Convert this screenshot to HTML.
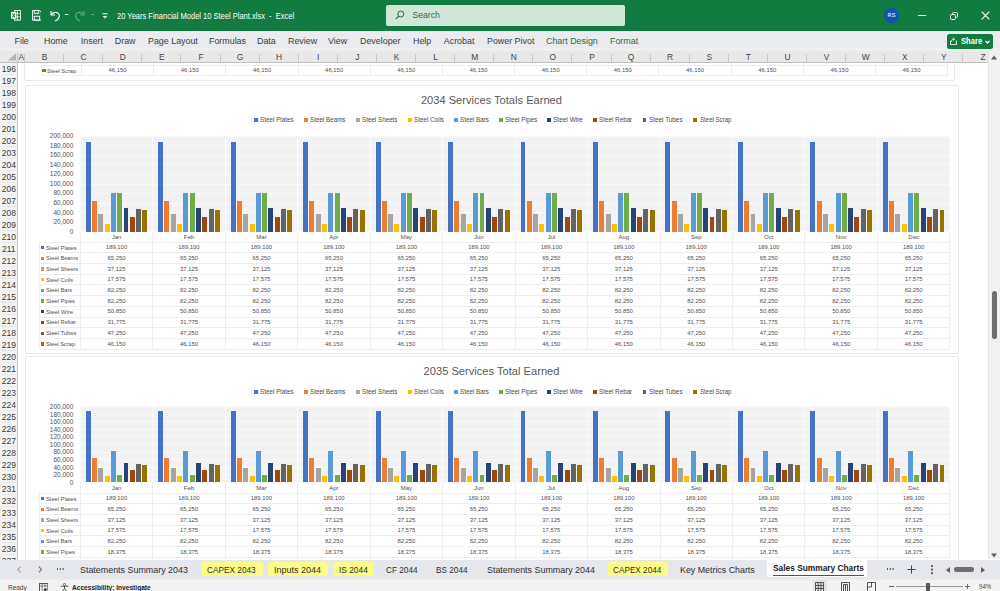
<!DOCTYPE html><html><head><meta charset="utf-8"><title>Excel</title><style>
*{box-sizing:border-box;margin:0;padding:0}
html,body{width:1000px;height:591px;overflow:hidden;background:#fff}
body{font-family:"Liberation Sans",sans-serif;position:relative;color:#444}
.abs{position:absolute}
.t{position:absolute;white-space:nowrap;line-height:1}
#titlebar{left:0;top:0;width:1000px;height:30.5px;background:#117b41}
#ribbon{left:0;top:30.5px;width:1000px;height:20.8px;background:#f0f0f0;border-top:17.7px solid #e9ebee}
#colhdr{left:0;top:51.3px;width:987.5px;height:11.7px;background:#e8e8e8;border-bottom:1px solid #c0c0c0}
#rowhdr{left:0;top:62.8px;width:17.9px;height:497px;background:#f3f3f3;border-right:1px solid #c9c9c9}
#vscroll{left:987.5px;top:51.3px;width:12.5px;height:508.2px;background:#f1f1f1;border-left:1px solid #e4e4e4}
#tabbar{left:0;top:559.5px;width:1000px;height:20px;background:#e6e7ec;border-bottom:2.7px solid #ebebec}
#status{left:0;top:579.5px;width:1000px;height:11.5px;background:#f3f3f3}
.rt{font-size:9px;color:#3b3b3b;top:37.2px}
.rn{font-size:8px;color:#444;left:0;width:17px;text-align:center}
.cl{font-size:8px;color:#444;top:53.6px;text-align:center;width:20px;margin-left:-10px}
.chart{position:absolute;background:#fff;border:1px solid #e9e9e9;border-radius:2px}
.ctitle{font-size:12.4px;color:#595959;text-align:center;width:300px;margin-left:-150px}
.leg{font-size:6.2px;color:#595959}
.yl{font-size:6.5px;color:#595959;text-align:right;width:40px}
.cat{font-size:6px;color:#595959;text-align:center;width:40px;margin-left:-20px}
.dv{font-size:5.9px;color:#595959;text-align:center;width:40px;margin-left:-20px}
.sn{font-size:5.7px;color:#595959}
.st{font-size:10.6px;color:#444;top:565px}
</style></head><body>
<div class="abs" id="sheet" style="left:17.4px;top:62.8px;width:970.1px;height:496.7px;overflow:hidden;background:#fff"><div class="abs" style="left:-17.4px;top:-62.8px;width:1000px;height:591px">
<div class="chart" style="left:24px;top:40px;width:931px;height:41.0px"></div>
<div class="abs" style="left:81.00px;top:40px;width:1px;height:35.849999999999994px;background:#eeeeee"></div>
<div class="abs" style="left:153.18px;top:40px;width:1px;height:35.849999999999994px;background:#eeeeee"></div>
<div class="abs" style="left:225.37px;top:40px;width:1px;height:35.849999999999994px;background:#eeeeee"></div>
<div class="abs" style="left:297.55px;top:40px;width:1px;height:35.849999999999994px;background:#eeeeee"></div>
<div class="abs" style="left:369.73px;top:40px;width:1px;height:35.849999999999994px;background:#eeeeee"></div>
<div class="abs" style="left:441.92px;top:40px;width:1px;height:35.849999999999994px;background:#eeeeee"></div>
<div class="abs" style="left:514.10px;top:40px;width:1px;height:35.849999999999994px;background:#eeeeee"></div>
<div class="abs" style="left:586.28px;top:40px;width:1px;height:35.849999999999994px;background:#eeeeee"></div>
<div class="abs" style="left:658.47px;top:40px;width:1px;height:35.849999999999994px;background:#eeeeee"></div>
<div class="abs" style="left:730.65px;top:40px;width:1px;height:35.849999999999994px;background:#eeeeee"></div>
<div class="abs" style="left:802.83px;top:40px;width:1px;height:35.849999999999994px;background:#eeeeee"></div>
<div class="abs" style="left:875.02px;top:40px;width:1px;height:35.849999999999994px;background:#eeeeee"></div>
<div class="abs" style="left:947.20px;top:40px;width:1px;height:35.849999999999994px;background:#eeeeee"></div>
<div class="abs" style="left:40.5px;top:65.15px;width:1px;height:10.699999999999989px;background:#eeeeee"></div>
<div class="abs" style="left:41px;top:64.65px;width:906.7px;height:1px;background:#eeeeee"></div>
<div class="abs" style="left:41px;top:75.35px;width:906.7px;height:1px;background:#eeeeee"></div>
<div class="abs" style="left:42.2px;top:68.90px;width:3.4px;height:3.4px;background:#997300"></div>
<div class="t" style="top:67.57px;font-size:6.00px;color:#505050;left:47.40px;transform-origin:0 50%;transform:scaleX(0.935);">Steel Scrap</div>
<div class="t" style="top:68.22px;font-size:5.90px;color:#505050;left:108.57px;transform-origin:50% 50%;">46,150</div>
<div class="t" style="top:68.22px;font-size:5.90px;color:#505050;left:180.75px;transform-origin:50% 50%;">46,150</div>
<div class="t" style="top:68.22px;font-size:5.90px;color:#505050;left:252.94px;transform-origin:50% 50%;">46,150</div>
<div class="t" style="top:68.22px;font-size:5.90px;color:#505050;left:325.12px;transform-origin:50% 50%;">46,150</div>
<div class="t" style="top:68.22px;font-size:5.90px;color:#505050;left:397.30px;transform-origin:50% 50%;">46,150</div>
<div class="t" style="top:68.22px;font-size:5.90px;color:#505050;left:469.49px;transform-origin:50% 50%;">46,150</div>
<div class="t" style="top:68.22px;font-size:5.90px;color:#505050;left:541.67px;transform-origin:50% 50%;">46,150</div>
<div class="t" style="top:68.22px;font-size:5.90px;color:#505050;left:613.85px;transform-origin:50% 50%;">46,150</div>
<div class="t" style="top:68.22px;font-size:5.90px;color:#505050;left:686.04px;transform-origin:50% 50%;">46,150</div>
<div class="t" style="top:68.22px;font-size:5.90px;color:#505050;left:758.22px;transform-origin:50% 50%;">46,150</div>
<div class="t" style="top:68.22px;font-size:5.90px;color:#505050;left:830.40px;transform-origin:50% 50%;">46,150</div>
<div class="t" style="top:68.22px;font-size:5.90px;color:#505050;left:902.59px;transform-origin:50% 50%;">46,150</div>
<div class="chart" style="left:24.6px;top:85px;width:934.4px;height:269.2px"></div>
<div class="t" style="top:94.73px;font-size:11.40px;color:#595959;left:419.14px;transform-origin:50% 50%;transform:scaleX(0.974);">2034 Services Totals Earned</div>
<div class="abs" style="left:253.75px;top:118.1px;width:3.8px;height:3.8px;background:#4472c4"></div>
<div class="t" style="top:116.98px;font-size:6.60px;color:#4c4c4c;left:259.95px;transform-origin:0 50%;transform:scaleX(0.958);">Steel Plates</div>
<div class="abs" style="left:304.25px;top:118.1px;width:3.8px;height:3.8px;background:#ed7d31"></div>
<div class="t" style="top:116.98px;font-size:6.60px;color:#4c4c4c;left:310.45px;transform-origin:0 50%;transform:scaleX(0.949);">Steel Beams</div>
<div class="abs" style="left:356.25px;top:118.1px;width:3.8px;height:3.8px;background:#a5a5a5"></div>
<div class="t" style="top:116.98px;font-size:6.60px;color:#4c4c4c;left:362.45px;transform-origin:0 50%;transform:scaleX(0.949);">Steel Sheets</div>
<div class="abs" style="left:408px;top:118.1px;width:3.8px;height:3.8px;background:#ffc000"></div>
<div class="t" style="top:116.98px;font-size:6.60px;color:#4c4c4c;left:414.20px;transform-origin:0 50%;transform:scaleX(0.951);">Steel Coils</div>
<div class="abs" style="left:454.25px;top:118.1px;width:3.8px;height:3.8px;background:#5b9bd5"></div>
<div class="t" style="top:116.98px;font-size:6.60px;color:#4c4c4c;left:460.45px;transform-origin:0 50%;transform:scaleX(0.952);">Steel Bars</div>
<div class="abs" style="left:499px;top:118.1px;width:3.8px;height:3.8px;background:#70ad47"></div>
<div class="t" style="top:116.98px;font-size:6.60px;color:#4c4c4c;left:505.20px;transform-origin:0 50%;transform:scaleX(0.964);">Steel Pipes</div>
<div class="abs" style="left:547px;top:118.1px;width:3.8px;height:3.8px;background:#264478"></div>
<div class="t" style="top:116.98px;font-size:6.60px;color:#4c4c4c;left:553.20px;transform-origin:0 50%;transform:scaleX(0.986);">Steel Wire</div>
<div class="abs" style="left:593.2px;top:118.1px;width:3.8px;height:3.8px;background:#9e480e"></div>
<div class="t" style="top:116.98px;font-size:6.60px;color:#4c4c4c;left:599.40px;transform-origin:0 50%;transform:scaleX(0.954);">Steel Rebar</div>
<div class="abs" style="left:642.5px;top:118.1px;width:3.8px;height:3.8px;background:#636363"></div>
<div class="t" style="top:116.98px;font-size:6.60px;color:#4c4c4c;left:648.70px;transform-origin:0 50%;transform:scaleX(0.964);">Steel Tubes</div>
<div class="abs" style="left:693.3px;top:118.1px;width:3.8px;height:3.8px;background:#997300"></div>
<div class="t" style="top:116.98px;font-size:6.60px;color:#4c4c4c;left:699.50px;transform-origin:0 50%;transform:scaleX(0.923);">Steel Scrap</div>
<div class="abs" style="left:80.3px;top:136.2px;width:869.6px;height:95.70000000000002px;background:#f2f2f2"></div>
<div class="abs" style="left:80.3px;top:231.4px;width:869.6px;height:1px;background:#fafafa"></div>
<div class="t" style="top:228.72px;font-size:6.50px;color:#525252;left:69.68px;transform-origin:100% 50%;">0</div>
<div class="abs" style="left:80.3px;top:221.83px;width:869.6px;height:1px;background:#fafafa"></div>
<div class="t" style="top:219.15px;font-size:6.50px;color:#525252;left:53.42px;transform-origin:100% 50%;">20,000</div>
<div class="abs" style="left:80.3px;top:212.26px;width:869.6px;height:1px;background:#fafafa"></div>
<div class="t" style="top:209.58px;font-size:6.50px;color:#525252;left:53.42px;transform-origin:100% 50%;">40,000</div>
<div class="abs" style="left:80.3px;top:202.69px;width:869.6px;height:1px;background:#fafafa"></div>
<div class="t" style="top:200.01px;font-size:6.50px;color:#525252;left:53.42px;transform-origin:100% 50%;">60,000</div>
<div class="abs" style="left:80.3px;top:193.12px;width:869.6px;height:1px;background:#fafafa"></div>
<div class="t" style="top:190.44px;font-size:6.50px;color:#525252;left:53.42px;transform-origin:100% 50%;">80,000</div>
<div class="abs" style="left:80.3px;top:183.55px;width:869.6px;height:1px;background:#fafafa"></div>
<div class="t" style="top:180.87px;font-size:6.50px;color:#525252;left:49.80px;transform-origin:100% 50%;">100,000</div>
<div class="abs" style="left:80.3px;top:173.98000000000002px;width:869.6px;height:1px;background:#fafafa"></div>
<div class="t" style="top:171.30px;font-size:6.50px;color:#525252;left:49.80px;transform-origin:100% 50%;">120,000</div>
<div class="abs" style="left:80.3px;top:164.41px;width:869.6px;height:1px;background:#fafafa"></div>
<div class="t" style="top:161.73px;font-size:6.50px;color:#525252;left:49.80px;transform-origin:100% 50%;">140,000</div>
<div class="abs" style="left:80.3px;top:154.83999999999997px;width:869.6px;height:1px;background:#fafafa"></div>
<div class="t" style="top:152.16px;font-size:6.50px;color:#525252;left:49.80px;transform-origin:100% 50%;">160,000</div>
<div class="abs" style="left:80.3px;top:145.26999999999998px;width:869.6px;height:1px;background:#fafafa"></div>
<div class="t" style="top:142.59px;font-size:6.50px;color:#525252;left:49.80px;transform-origin:100% 50%;">180,000</div>
<div class="abs" style="left:80.3px;top:135.7px;width:869.6px;height:1px;background:#fafafa"></div>
<div class="t" style="top:133.02px;font-size:6.50px;color:#525252;left:49.80px;transform-origin:100% 50%;">200,000</div>
<div class="abs" style="left:85.73px;top:141.96px;width:4.96px;height:89.94px;background:#4472c4"></div>
<div class="abs" style="left:92.02px;top:200.87px;width:4.96px;height:31.03px;background:#ed7d31"></div>
<div class="abs" style="left:98.32px;top:214.24px;width:4.96px;height:17.66px;background:#a5a5a5"></div>
<div class="abs" style="left:104.61px;top:223.54px;width:4.96px;height:8.36px;background:#ffc000"></div>
<div class="abs" style="left:110.91px;top:192.78px;width:4.96px;height:39.12px;background:#5b9bd5"></div>
<div class="abs" style="left:117.20px;top:192.78px;width:4.96px;height:39.12px;background:#70ad47"></div>
<div class="abs" style="left:123.50px;top:207.71px;width:4.96px;height:24.19px;background:#264478"></div>
<div class="abs" style="left:129.79px;top:216.79px;width:4.96px;height:15.11px;background:#9e480e"></div>
<div class="abs" style="left:136.09px;top:209.43px;width:4.96px;height:22.47px;background:#636363"></div>
<div class="abs" style="left:142.38px;top:209.95px;width:4.96px;height:21.95px;background:#997300"></div>
<div class="abs" style="left:158.19px;top:141.96px;width:4.96px;height:89.94px;background:#4472c4"></div>
<div class="abs" style="left:164.49px;top:200.87px;width:4.96px;height:31.03px;background:#ed7d31"></div>
<div class="abs" style="left:170.78px;top:214.24px;width:4.96px;height:17.66px;background:#a5a5a5"></div>
<div class="abs" style="left:177.08px;top:223.54px;width:4.96px;height:8.36px;background:#ffc000"></div>
<div class="abs" style="left:183.37px;top:192.78px;width:4.96px;height:39.12px;background:#5b9bd5"></div>
<div class="abs" style="left:189.67px;top:192.78px;width:4.96px;height:39.12px;background:#70ad47"></div>
<div class="abs" style="left:195.96px;top:207.71px;width:4.96px;height:24.19px;background:#264478"></div>
<div class="abs" style="left:202.26px;top:216.79px;width:4.96px;height:15.11px;background:#9e480e"></div>
<div class="abs" style="left:208.55px;top:209.43px;width:4.96px;height:22.47px;background:#636363"></div>
<div class="abs" style="left:214.85px;top:209.95px;width:4.96px;height:21.95px;background:#997300"></div>
<div class="abs" style="left:230.66px;top:141.96px;width:4.96px;height:89.94px;background:#4472c4"></div>
<div class="abs" style="left:236.96px;top:200.87px;width:4.96px;height:31.03px;background:#ed7d31"></div>
<div class="abs" style="left:243.25px;top:214.24px;width:4.96px;height:17.66px;background:#a5a5a5"></div>
<div class="abs" style="left:249.55px;top:223.54px;width:4.96px;height:8.36px;background:#ffc000"></div>
<div class="abs" style="left:255.84px;top:192.78px;width:4.96px;height:39.12px;background:#5b9bd5"></div>
<div class="abs" style="left:262.14px;top:192.78px;width:4.96px;height:39.12px;background:#70ad47"></div>
<div class="abs" style="left:268.43px;top:207.71px;width:4.96px;height:24.19px;background:#264478"></div>
<div class="abs" style="left:274.73px;top:216.79px;width:4.96px;height:15.11px;background:#9e480e"></div>
<div class="abs" style="left:281.02px;top:209.43px;width:4.96px;height:22.47px;background:#636363"></div>
<div class="abs" style="left:287.32px;top:209.95px;width:4.96px;height:21.95px;background:#997300"></div>
<div class="abs" style="left:303.13px;top:141.96px;width:4.96px;height:89.94px;background:#4472c4"></div>
<div class="abs" style="left:309.42px;top:200.87px;width:4.96px;height:31.03px;background:#ed7d31"></div>
<div class="abs" style="left:315.72px;top:214.24px;width:4.96px;height:17.66px;background:#a5a5a5"></div>
<div class="abs" style="left:322.01px;top:223.54px;width:4.96px;height:8.36px;background:#ffc000"></div>
<div class="abs" style="left:328.31px;top:192.78px;width:4.96px;height:39.12px;background:#5b9bd5"></div>
<div class="abs" style="left:334.60px;top:192.78px;width:4.96px;height:39.12px;background:#70ad47"></div>
<div class="abs" style="left:340.90px;top:207.71px;width:4.96px;height:24.19px;background:#264478"></div>
<div class="abs" style="left:347.19px;top:216.79px;width:4.96px;height:15.11px;background:#9e480e"></div>
<div class="abs" style="left:353.49px;top:209.43px;width:4.96px;height:22.47px;background:#636363"></div>
<div class="abs" style="left:359.78px;top:209.95px;width:4.96px;height:21.95px;background:#997300"></div>
<div class="abs" style="left:375.59px;top:141.96px;width:4.96px;height:89.94px;background:#4472c4"></div>
<div class="abs" style="left:381.89px;top:200.87px;width:4.96px;height:31.03px;background:#ed7d31"></div>
<div class="abs" style="left:388.18px;top:214.24px;width:4.96px;height:17.66px;background:#a5a5a5"></div>
<div class="abs" style="left:394.48px;top:223.54px;width:4.96px;height:8.36px;background:#ffc000"></div>
<div class="abs" style="left:400.77px;top:192.78px;width:4.96px;height:39.12px;background:#5b9bd5"></div>
<div class="abs" style="left:407.07px;top:192.78px;width:4.96px;height:39.12px;background:#70ad47"></div>
<div class="abs" style="left:413.36px;top:207.71px;width:4.96px;height:24.19px;background:#264478"></div>
<div class="abs" style="left:419.66px;top:216.79px;width:4.96px;height:15.11px;background:#9e480e"></div>
<div class="abs" style="left:425.95px;top:209.43px;width:4.96px;height:22.47px;background:#636363"></div>
<div class="abs" style="left:432.25px;top:209.95px;width:4.96px;height:21.95px;background:#997300"></div>
<div class="abs" style="left:448.06px;top:141.96px;width:4.96px;height:89.94px;background:#4472c4"></div>
<div class="abs" style="left:454.36px;top:200.87px;width:4.96px;height:31.03px;background:#ed7d31"></div>
<div class="abs" style="left:460.65px;top:214.24px;width:4.96px;height:17.66px;background:#a5a5a5"></div>
<div class="abs" style="left:466.95px;top:223.54px;width:4.96px;height:8.36px;background:#ffc000"></div>
<div class="abs" style="left:473.24px;top:192.78px;width:4.96px;height:39.12px;background:#5b9bd5"></div>
<div class="abs" style="left:479.54px;top:192.78px;width:4.96px;height:39.12px;background:#70ad47"></div>
<div class="abs" style="left:485.83px;top:207.71px;width:4.96px;height:24.19px;background:#264478"></div>
<div class="abs" style="left:492.13px;top:216.79px;width:4.96px;height:15.11px;background:#9e480e"></div>
<div class="abs" style="left:498.42px;top:209.43px;width:4.96px;height:22.47px;background:#636363"></div>
<div class="abs" style="left:504.72px;top:209.95px;width:4.96px;height:21.95px;background:#997300"></div>
<div class="abs" style="left:520.53px;top:141.96px;width:4.96px;height:89.94px;background:#4472c4"></div>
<div class="abs" style="left:526.82px;top:200.87px;width:4.96px;height:31.03px;background:#ed7d31"></div>
<div class="abs" style="left:533.12px;top:214.24px;width:4.96px;height:17.66px;background:#a5a5a5"></div>
<div class="abs" style="left:539.41px;top:223.54px;width:4.96px;height:8.36px;background:#ffc000"></div>
<div class="abs" style="left:545.71px;top:192.78px;width:4.96px;height:39.12px;background:#5b9bd5"></div>
<div class="abs" style="left:552.00px;top:192.78px;width:4.96px;height:39.12px;background:#70ad47"></div>
<div class="abs" style="left:558.30px;top:207.71px;width:4.96px;height:24.19px;background:#264478"></div>
<div class="abs" style="left:564.59px;top:216.79px;width:4.96px;height:15.11px;background:#9e480e"></div>
<div class="abs" style="left:570.89px;top:209.43px;width:4.96px;height:22.47px;background:#636363"></div>
<div class="abs" style="left:577.18px;top:209.95px;width:4.96px;height:21.95px;background:#997300"></div>
<div class="abs" style="left:592.99px;top:141.96px;width:4.96px;height:89.94px;background:#4472c4"></div>
<div class="abs" style="left:599.29px;top:200.87px;width:4.96px;height:31.03px;background:#ed7d31"></div>
<div class="abs" style="left:605.58px;top:214.24px;width:4.96px;height:17.66px;background:#a5a5a5"></div>
<div class="abs" style="left:611.88px;top:223.54px;width:4.96px;height:8.36px;background:#ffc000"></div>
<div class="abs" style="left:618.17px;top:192.78px;width:4.96px;height:39.12px;background:#5b9bd5"></div>
<div class="abs" style="left:624.47px;top:192.78px;width:4.96px;height:39.12px;background:#70ad47"></div>
<div class="abs" style="left:630.76px;top:207.71px;width:4.96px;height:24.19px;background:#264478"></div>
<div class="abs" style="left:637.06px;top:216.79px;width:4.96px;height:15.11px;background:#9e480e"></div>
<div class="abs" style="left:643.35px;top:209.43px;width:4.96px;height:22.47px;background:#636363"></div>
<div class="abs" style="left:649.65px;top:209.95px;width:4.96px;height:21.95px;background:#997300"></div>
<div class="abs" style="left:665.46px;top:141.96px;width:4.96px;height:89.94px;background:#4472c4"></div>
<div class="abs" style="left:671.76px;top:200.87px;width:4.96px;height:31.03px;background:#ed7d31"></div>
<div class="abs" style="left:678.05px;top:214.24px;width:4.96px;height:17.66px;background:#a5a5a5"></div>
<div class="abs" style="left:684.35px;top:223.54px;width:4.96px;height:8.36px;background:#ffc000"></div>
<div class="abs" style="left:690.64px;top:192.78px;width:4.96px;height:39.12px;background:#5b9bd5"></div>
<div class="abs" style="left:696.94px;top:192.78px;width:4.96px;height:39.12px;background:#70ad47"></div>
<div class="abs" style="left:703.23px;top:207.71px;width:4.96px;height:24.19px;background:#264478"></div>
<div class="abs" style="left:709.53px;top:216.79px;width:4.96px;height:15.11px;background:#9e480e"></div>
<div class="abs" style="left:715.82px;top:209.43px;width:4.96px;height:22.47px;background:#636363"></div>
<div class="abs" style="left:722.12px;top:209.95px;width:4.96px;height:21.95px;background:#997300"></div>
<div class="abs" style="left:737.93px;top:141.96px;width:4.96px;height:89.94px;background:#4472c4"></div>
<div class="abs" style="left:744.22px;top:200.87px;width:4.96px;height:31.03px;background:#ed7d31"></div>
<div class="abs" style="left:750.52px;top:214.24px;width:4.96px;height:17.66px;background:#a5a5a5"></div>
<div class="abs" style="left:756.81px;top:223.54px;width:4.96px;height:8.36px;background:#ffc000"></div>
<div class="abs" style="left:763.11px;top:192.78px;width:4.96px;height:39.12px;background:#5b9bd5"></div>
<div class="abs" style="left:769.40px;top:192.78px;width:4.96px;height:39.12px;background:#70ad47"></div>
<div class="abs" style="left:775.70px;top:207.71px;width:4.96px;height:24.19px;background:#264478"></div>
<div class="abs" style="left:781.99px;top:216.79px;width:4.96px;height:15.11px;background:#9e480e"></div>
<div class="abs" style="left:788.29px;top:209.43px;width:4.96px;height:22.47px;background:#636363"></div>
<div class="abs" style="left:794.58px;top:209.95px;width:4.96px;height:21.95px;background:#997300"></div>
<div class="abs" style="left:810.39px;top:141.96px;width:4.96px;height:89.94px;background:#4472c4"></div>
<div class="abs" style="left:816.69px;top:200.87px;width:4.96px;height:31.03px;background:#ed7d31"></div>
<div class="abs" style="left:822.98px;top:214.24px;width:4.96px;height:17.66px;background:#a5a5a5"></div>
<div class="abs" style="left:829.28px;top:223.54px;width:4.96px;height:8.36px;background:#ffc000"></div>
<div class="abs" style="left:835.57px;top:192.78px;width:4.96px;height:39.12px;background:#5b9bd5"></div>
<div class="abs" style="left:841.87px;top:192.78px;width:4.96px;height:39.12px;background:#70ad47"></div>
<div class="abs" style="left:848.16px;top:207.71px;width:4.96px;height:24.19px;background:#264478"></div>
<div class="abs" style="left:854.46px;top:216.79px;width:4.96px;height:15.11px;background:#9e480e"></div>
<div class="abs" style="left:860.75px;top:209.43px;width:4.96px;height:22.47px;background:#636363"></div>
<div class="abs" style="left:867.05px;top:209.95px;width:4.96px;height:21.95px;background:#997300"></div>
<div class="abs" style="left:882.86px;top:141.96px;width:4.96px;height:89.94px;background:#4472c4"></div>
<div class="abs" style="left:889.16px;top:200.87px;width:4.96px;height:31.03px;background:#ed7d31"></div>
<div class="abs" style="left:895.45px;top:214.24px;width:4.96px;height:17.66px;background:#a5a5a5"></div>
<div class="abs" style="left:901.75px;top:223.54px;width:4.96px;height:8.36px;background:#ffc000"></div>
<div class="abs" style="left:908.04px;top:192.78px;width:4.96px;height:39.12px;background:#5b9bd5"></div>
<div class="abs" style="left:914.34px;top:192.78px;width:4.96px;height:39.12px;background:#70ad47"></div>
<div class="abs" style="left:920.63px;top:207.71px;width:4.96px;height:24.19px;background:#264478"></div>
<div class="abs" style="left:926.93px;top:216.79px;width:4.96px;height:15.11px;background:#9e480e"></div>
<div class="abs" style="left:933.22px;top:209.43px;width:4.96px;height:22.47px;background:#636363"></div>
<div class="abs" style="left:939.52px;top:209.95px;width:4.96px;height:21.95px;background:#997300"></div>
<div class="abs" style="left:79.80px;top:136.2px;width:1px;height:95.70000000000002px;background:#fbfbfb"></div>
<div class="abs" style="left:79.80px;top:231.9px;width:1px;height:117.25000000000003px;background:#eeeeee"></div>
<div class="abs" style="left:152.27px;top:136.2px;width:1px;height:95.70000000000002px;background:#fbfbfb"></div>
<div class="abs" style="left:152.27px;top:231.9px;width:1px;height:117.25000000000003px;background:#eeeeee"></div>
<div class="abs" style="left:224.73px;top:136.2px;width:1px;height:95.70000000000002px;background:#fbfbfb"></div>
<div class="abs" style="left:224.73px;top:231.9px;width:1px;height:117.25000000000003px;background:#eeeeee"></div>
<div class="abs" style="left:297.20px;top:136.2px;width:1px;height:95.70000000000002px;background:#fbfbfb"></div>
<div class="abs" style="left:297.20px;top:231.9px;width:1px;height:117.25000000000003px;background:#eeeeee"></div>
<div class="abs" style="left:369.67px;top:136.2px;width:1px;height:95.70000000000002px;background:#fbfbfb"></div>
<div class="abs" style="left:369.67px;top:231.9px;width:1px;height:117.25000000000003px;background:#eeeeee"></div>
<div class="abs" style="left:442.13px;top:136.2px;width:1px;height:95.70000000000002px;background:#fbfbfb"></div>
<div class="abs" style="left:442.13px;top:231.9px;width:1px;height:117.25000000000003px;background:#eeeeee"></div>
<div class="abs" style="left:514.60px;top:136.2px;width:1px;height:95.70000000000002px;background:#fbfbfb"></div>
<div class="abs" style="left:514.60px;top:231.9px;width:1px;height:117.25000000000003px;background:#eeeeee"></div>
<div class="abs" style="left:587.07px;top:136.2px;width:1px;height:95.70000000000002px;background:#fbfbfb"></div>
<div class="abs" style="left:587.07px;top:231.9px;width:1px;height:117.25000000000003px;background:#eeeeee"></div>
<div class="abs" style="left:659.53px;top:136.2px;width:1px;height:95.70000000000002px;background:#fbfbfb"></div>
<div class="abs" style="left:659.53px;top:231.9px;width:1px;height:117.25000000000003px;background:#eeeeee"></div>
<div class="abs" style="left:732.00px;top:136.2px;width:1px;height:95.70000000000002px;background:#fbfbfb"></div>
<div class="abs" style="left:732.00px;top:231.9px;width:1px;height:117.25000000000003px;background:#eeeeee"></div>
<div class="abs" style="left:804.47px;top:136.2px;width:1px;height:95.70000000000002px;background:#fbfbfb"></div>
<div class="abs" style="left:804.47px;top:231.9px;width:1px;height:117.25000000000003px;background:#eeeeee"></div>
<div class="abs" style="left:876.93px;top:136.2px;width:1px;height:95.70000000000002px;background:#fbfbfb"></div>
<div class="abs" style="left:876.93px;top:231.9px;width:1px;height:117.25000000000003px;background:#eeeeee"></div>
<div class="abs" style="left:949.40px;top:136.2px;width:1px;height:95.70000000000002px;background:#fbfbfb"></div>
<div class="abs" style="left:949.40px;top:231.9px;width:1px;height:117.25000000000003px;background:#eeeeee"></div>
<div class="abs" style="left:39.3px;top:242.15px;width:1px;height:107.00000000000003px;background:#eeeeee"></div>
<div class="abs" style="left:39.8px;top:241.65px;width:910.1px;height:1px;background:#eeeeee"></div>
<div class="abs" style="left:39.8px;top:252.35px;width:910.1px;height:1px;background:#eeeeee"></div>
<div class="abs" style="left:39.8px;top:263.05px;width:910.1px;height:1px;background:#eeeeee"></div>
<div class="abs" style="left:39.8px;top:273.75px;width:910.1px;height:1px;background:#eeeeee"></div>
<div class="abs" style="left:39.8px;top:284.45px;width:910.1px;height:1px;background:#eeeeee"></div>
<div class="abs" style="left:39.8px;top:295.15px;width:910.1px;height:1px;background:#eeeeee"></div>
<div class="abs" style="left:39.8px;top:305.85px;width:910.1px;height:1px;background:#eeeeee"></div>
<div class="abs" style="left:39.8px;top:316.55px;width:910.1px;height:1px;background:#eeeeee"></div>
<div class="abs" style="left:39.8px;top:327.25px;width:910.1px;height:1px;background:#eeeeee"></div>
<div class="abs" style="left:39.8px;top:337.95px;width:910.1px;height:1px;background:#eeeeee"></div>
<div class="abs" style="left:39.8px;top:348.65px;width:910.1px;height:1px;background:#eeeeee"></div>
<div class="t" style="top:234.37px;font-size:6.00px;color:#525252;left:111.70px;transform-origin:50% 50%;">Jan</div>
<div class="t" style="top:234.37px;font-size:6.00px;color:#525252;left:183.83px;transform-origin:50% 50%;">Feb</div>
<div class="t" style="top:234.37px;font-size:6.00px;color:#525252;left:256.30px;transform-origin:50% 50%;">Mar</div>
<div class="t" style="top:234.37px;font-size:6.00px;color:#525252;left:329.26px;transform-origin:50% 50%;">Apr</div>
<div class="t" style="top:234.37px;font-size:6.00px;color:#525252;left:400.73px;transform-origin:50% 50%;">May</div>
<div class="t" style="top:234.37px;font-size:6.00px;color:#525252;left:474.03px;transform-origin:50% 50%;">Jun</div>
<div class="t" style="top:234.37px;font-size:6.00px;color:#525252;left:547.50px;transform-origin:50% 50%;">Jul</div>
<div class="t" style="top:234.37px;font-size:6.00px;color:#525252;left:618.46px;transform-origin:50% 50%;">Aug</div>
<div class="t" style="top:234.37px;font-size:6.00px;color:#525252;left:690.93px;transform-origin:50% 50%;">Sep</div>
<div class="t" style="top:234.37px;font-size:6.00px;color:#525252;left:764.07px;transform-origin:50% 50%;">Oct</div>
<div class="t" style="top:234.37px;font-size:6.00px;color:#525252;left:835.87px;transform-origin:50% 50%;">Nov</div>
<div class="t" style="top:234.37px;font-size:6.00px;color:#525252;left:908.33px;transform-origin:50% 50%;">Dec</div>
<div class="abs" style="left:41.0px;top:245.90px;width:3.4px;height:3.4px;background:#4472c4"></div>
<div class="t" style="top:244.57px;font-size:6.00px;color:#505050;left:46.20px;transform-origin:0 50%;transform:scaleX(0.953);">Steel Plates</div>
<div class="t" style="top:245.22px;font-size:5.90px;color:#505050;left:105.87px;transform-origin:50% 50%;">189,100</div>
<div class="t" style="top:245.22px;font-size:5.90px;color:#505050;left:178.34px;transform-origin:50% 50%;">189,100</div>
<div class="t" style="top:245.22px;font-size:5.90px;color:#505050;left:250.80px;transform-origin:50% 50%;">189,100</div>
<div class="t" style="top:245.22px;font-size:5.90px;color:#505050;left:323.27px;transform-origin:50% 50%;">189,100</div>
<div class="t" style="top:245.22px;font-size:5.90px;color:#505050;left:395.74px;transform-origin:50% 50%;">189,100</div>
<div class="t" style="top:245.22px;font-size:5.90px;color:#505050;left:468.20px;transform-origin:50% 50%;">189,100</div>
<div class="t" style="top:245.22px;font-size:5.90px;color:#505050;left:540.67px;transform-origin:50% 50%;">189,100</div>
<div class="t" style="top:245.22px;font-size:5.90px;color:#505050;left:613.14px;transform-origin:50% 50%;">189,100</div>
<div class="t" style="top:245.22px;font-size:5.90px;color:#505050;left:685.60px;transform-origin:50% 50%;">189,100</div>
<div class="t" style="top:245.22px;font-size:5.90px;color:#505050;left:758.07px;transform-origin:50% 50%;">189,100</div>
<div class="t" style="top:245.22px;font-size:5.90px;color:#505050;left:830.54px;transform-origin:50% 50%;">189,100</div>
<div class="t" style="top:245.22px;font-size:5.90px;color:#505050;left:903.00px;transform-origin:50% 50%;">189,100</div>
<div class="abs" style="left:41.0px;top:256.60px;width:3.4px;height:3.4px;background:#ed7d31"></div>
<div class="t" style="top:255.27px;font-size:6.00px;color:#505050;left:46.20px;transform-origin:0 50%;transform:scaleX(0.941);">Steel Beams</div>
<div class="t" style="top:255.92px;font-size:5.90px;color:#505050;left:107.51px;transform-origin:50% 50%;">65,250</div>
<div class="t" style="top:255.92px;font-size:5.90px;color:#505050;left:179.98px;transform-origin:50% 50%;">65,250</div>
<div class="t" style="top:255.92px;font-size:5.90px;color:#505050;left:252.44px;transform-origin:50% 50%;">65,250</div>
<div class="t" style="top:255.92px;font-size:5.90px;color:#505050;left:324.91px;transform-origin:50% 50%;">65,250</div>
<div class="t" style="top:255.92px;font-size:5.90px;color:#505050;left:397.38px;transform-origin:50% 50%;">65,250</div>
<div class="t" style="top:255.92px;font-size:5.90px;color:#505050;left:469.84px;transform-origin:50% 50%;">65,250</div>
<div class="t" style="top:255.92px;font-size:5.90px;color:#505050;left:542.31px;transform-origin:50% 50%;">65,250</div>
<div class="t" style="top:255.92px;font-size:5.90px;color:#505050;left:614.78px;transform-origin:50% 50%;">65,250</div>
<div class="t" style="top:255.92px;font-size:5.90px;color:#505050;left:687.24px;transform-origin:50% 50%;">65,250</div>
<div class="t" style="top:255.92px;font-size:5.90px;color:#505050;left:759.71px;transform-origin:50% 50%;">65,250</div>
<div class="t" style="top:255.92px;font-size:5.90px;color:#505050;left:832.18px;transform-origin:50% 50%;">65,250</div>
<div class="t" style="top:255.92px;font-size:5.90px;color:#505050;left:904.64px;transform-origin:50% 50%;">65,250</div>
<div class="abs" style="left:41.0px;top:267.30px;width:3.4px;height:3.4px;background:#a5a5a5"></div>
<div class="t" style="top:265.97px;font-size:6.00px;color:#505050;left:46.20px;transform-origin:0 50%;transform:scaleX(0.941);">Steel Sheets</div>
<div class="t" style="top:266.62px;font-size:5.90px;color:#505050;left:107.51px;transform-origin:50% 50%;">37,125</div>
<div class="t" style="top:266.62px;font-size:5.90px;color:#505050;left:179.98px;transform-origin:50% 50%;">37,125</div>
<div class="t" style="top:266.62px;font-size:5.90px;color:#505050;left:252.44px;transform-origin:50% 50%;">37,125</div>
<div class="t" style="top:266.62px;font-size:5.90px;color:#505050;left:324.91px;transform-origin:50% 50%;">37,125</div>
<div class="t" style="top:266.62px;font-size:5.90px;color:#505050;left:397.38px;transform-origin:50% 50%;">37,125</div>
<div class="t" style="top:266.62px;font-size:5.90px;color:#505050;left:469.84px;transform-origin:50% 50%;">37,125</div>
<div class="t" style="top:266.62px;font-size:5.90px;color:#505050;left:542.31px;transform-origin:50% 50%;">37,125</div>
<div class="t" style="top:266.62px;font-size:5.90px;color:#505050;left:614.78px;transform-origin:50% 50%;">37,125</div>
<div class="t" style="top:266.62px;font-size:5.90px;color:#505050;left:687.24px;transform-origin:50% 50%;">37,125</div>
<div class="t" style="top:266.62px;font-size:5.90px;color:#505050;left:759.71px;transform-origin:50% 50%;">37,125</div>
<div class="t" style="top:266.62px;font-size:5.90px;color:#505050;left:832.18px;transform-origin:50% 50%;">37,125</div>
<div class="t" style="top:266.62px;font-size:5.90px;color:#505050;left:904.64px;transform-origin:50% 50%;">37,125</div>
<div class="abs" style="left:41.0px;top:278.00px;width:3.4px;height:3.4px;background:#ffc000"></div>
<div class="t" style="top:276.67px;font-size:6.00px;color:#505050;left:46.20px;transform-origin:0 50%;transform:scaleX(0.941);">Steel Coils</div>
<div class="t" style="top:277.32px;font-size:5.90px;color:#505050;left:107.51px;transform-origin:50% 50%;">17,575</div>
<div class="t" style="top:277.32px;font-size:5.90px;color:#505050;left:179.98px;transform-origin:50% 50%;">17,575</div>
<div class="t" style="top:277.32px;font-size:5.90px;color:#505050;left:252.44px;transform-origin:50% 50%;">17,575</div>
<div class="t" style="top:277.32px;font-size:5.90px;color:#505050;left:324.91px;transform-origin:50% 50%;">17,575</div>
<div class="t" style="top:277.32px;font-size:5.90px;color:#505050;left:397.38px;transform-origin:50% 50%;">17,575</div>
<div class="t" style="top:277.32px;font-size:5.90px;color:#505050;left:469.84px;transform-origin:50% 50%;">17,575</div>
<div class="t" style="top:277.32px;font-size:5.90px;color:#505050;left:542.31px;transform-origin:50% 50%;">17,575</div>
<div class="t" style="top:277.32px;font-size:5.90px;color:#505050;left:614.78px;transform-origin:50% 50%;">17,575</div>
<div class="t" style="top:277.32px;font-size:5.90px;color:#505050;left:687.24px;transform-origin:50% 50%;">17,575</div>
<div class="t" style="top:277.32px;font-size:5.90px;color:#505050;left:759.71px;transform-origin:50% 50%;">17,575</div>
<div class="t" style="top:277.32px;font-size:5.90px;color:#505050;left:832.18px;transform-origin:50% 50%;">17,575</div>
<div class="t" style="top:277.32px;font-size:5.90px;color:#505050;left:904.64px;transform-origin:50% 50%;">17,575</div>
<div class="abs" style="left:41.0px;top:288.70px;width:3.4px;height:3.4px;background:#5b9bd5"></div>
<div class="t" style="top:287.37px;font-size:6.00px;color:#505050;left:46.20px;transform-origin:0 50%;transform:scaleX(0.947);">Steel Bars</div>
<div class="t" style="top:288.02px;font-size:5.90px;color:#505050;left:107.51px;transform-origin:50% 50%;">82,250</div>
<div class="t" style="top:288.02px;font-size:5.90px;color:#505050;left:179.98px;transform-origin:50% 50%;">82,250</div>
<div class="t" style="top:288.02px;font-size:5.90px;color:#505050;left:252.44px;transform-origin:50% 50%;">82,250</div>
<div class="t" style="top:288.02px;font-size:5.90px;color:#505050;left:324.91px;transform-origin:50% 50%;">82,250</div>
<div class="t" style="top:288.02px;font-size:5.90px;color:#505050;left:397.38px;transform-origin:50% 50%;">82,250</div>
<div class="t" style="top:288.02px;font-size:5.90px;color:#505050;left:469.84px;transform-origin:50% 50%;">82,250</div>
<div class="t" style="top:288.02px;font-size:5.90px;color:#505050;left:542.31px;transform-origin:50% 50%;">82,250</div>
<div class="t" style="top:288.02px;font-size:5.90px;color:#505050;left:614.78px;transform-origin:50% 50%;">82,250</div>
<div class="t" style="top:288.02px;font-size:5.90px;color:#505050;left:687.24px;transform-origin:50% 50%;">82,250</div>
<div class="t" style="top:288.02px;font-size:5.90px;color:#505050;left:759.71px;transform-origin:50% 50%;">82,250</div>
<div class="t" style="top:288.02px;font-size:5.90px;color:#505050;left:832.18px;transform-origin:50% 50%;">82,250</div>
<div class="t" style="top:288.02px;font-size:5.90px;color:#505050;left:904.64px;transform-origin:50% 50%;">82,250</div>
<div class="abs" style="left:41.0px;top:299.40px;width:3.4px;height:3.4px;background:#70ad47"></div>
<div class="t" style="top:298.07px;font-size:6.00px;color:#505050;left:46.20px;transform-origin:0 50%;transform:scaleX(0.955);">Steel Pipes</div>
<div class="t" style="top:298.72px;font-size:5.90px;color:#505050;left:107.51px;transform-origin:50% 50%;">82,250</div>
<div class="t" style="top:298.72px;font-size:5.90px;color:#505050;left:179.98px;transform-origin:50% 50%;">82,250</div>
<div class="t" style="top:298.72px;font-size:5.90px;color:#505050;left:252.44px;transform-origin:50% 50%;">82,250</div>
<div class="t" style="top:298.72px;font-size:5.90px;color:#505050;left:324.91px;transform-origin:50% 50%;">82,250</div>
<div class="t" style="top:298.72px;font-size:5.90px;color:#505050;left:397.38px;transform-origin:50% 50%;">82,250</div>
<div class="t" style="top:298.72px;font-size:5.90px;color:#505050;left:469.84px;transform-origin:50% 50%;">82,250</div>
<div class="t" style="top:298.72px;font-size:5.90px;color:#505050;left:542.31px;transform-origin:50% 50%;">82,250</div>
<div class="t" style="top:298.72px;font-size:5.90px;color:#505050;left:614.78px;transform-origin:50% 50%;">82,250</div>
<div class="t" style="top:298.72px;font-size:5.90px;color:#505050;left:687.24px;transform-origin:50% 50%;">82,250</div>
<div class="t" style="top:298.72px;font-size:5.90px;color:#505050;left:759.71px;transform-origin:50% 50%;">82,250</div>
<div class="t" style="top:298.72px;font-size:5.90px;color:#505050;left:832.18px;transform-origin:50% 50%;">82,250</div>
<div class="t" style="top:298.72px;font-size:5.90px;color:#505050;left:904.64px;transform-origin:50% 50%;">82,250</div>
<div class="abs" style="left:41.0px;top:310.10px;width:3.4px;height:3.4px;background:#264478"></div>
<div class="t" style="top:308.77px;font-size:6.00px;color:#505050;left:46.20px;transform-origin:0 50%;transform:scaleX(0.976);">Steel Wire</div>
<div class="t" style="top:309.42px;font-size:5.90px;color:#505050;left:107.51px;transform-origin:50% 50%;">50,850</div>
<div class="t" style="top:309.42px;font-size:5.90px;color:#505050;left:179.98px;transform-origin:50% 50%;">50,850</div>
<div class="t" style="top:309.42px;font-size:5.90px;color:#505050;left:252.44px;transform-origin:50% 50%;">50,850</div>
<div class="t" style="top:309.42px;font-size:5.90px;color:#505050;left:324.91px;transform-origin:50% 50%;">50,850</div>
<div class="t" style="top:309.42px;font-size:5.90px;color:#505050;left:397.38px;transform-origin:50% 50%;">50,850</div>
<div class="t" style="top:309.42px;font-size:5.90px;color:#505050;left:469.84px;transform-origin:50% 50%;">50,850</div>
<div class="t" style="top:309.42px;font-size:5.90px;color:#505050;left:542.31px;transform-origin:50% 50%;">50,850</div>
<div class="t" style="top:309.42px;font-size:5.90px;color:#505050;left:614.78px;transform-origin:50% 50%;">50,850</div>
<div class="t" style="top:309.42px;font-size:5.90px;color:#505050;left:687.24px;transform-origin:50% 50%;">50,850</div>
<div class="t" style="top:309.42px;font-size:5.90px;color:#505050;left:759.71px;transform-origin:50% 50%;">50,850</div>
<div class="t" style="top:309.42px;font-size:5.90px;color:#505050;left:832.18px;transform-origin:50% 50%;">50,850</div>
<div class="t" style="top:309.42px;font-size:5.90px;color:#505050;left:904.64px;transform-origin:50% 50%;">50,850</div>
<div class="abs" style="left:41.0px;top:320.80px;width:3.4px;height:3.4px;background:#9e480e"></div>
<div class="t" style="top:319.47px;font-size:6.00px;color:#505050;left:46.20px;transform-origin:0 50%;transform:scaleX(0.947);">Steel Rebar</div>
<div class="t" style="top:320.12px;font-size:5.90px;color:#505050;left:107.51px;transform-origin:50% 50%;">31,775</div>
<div class="t" style="top:320.12px;font-size:5.90px;color:#505050;left:179.98px;transform-origin:50% 50%;">31,775</div>
<div class="t" style="top:320.12px;font-size:5.90px;color:#505050;left:252.44px;transform-origin:50% 50%;">31,775</div>
<div class="t" style="top:320.12px;font-size:5.90px;color:#505050;left:324.91px;transform-origin:50% 50%;">31,775</div>
<div class="t" style="top:320.12px;font-size:5.90px;color:#505050;left:397.38px;transform-origin:50% 50%;">31,775</div>
<div class="t" style="top:320.12px;font-size:5.90px;color:#505050;left:469.84px;transform-origin:50% 50%;">31,775</div>
<div class="t" style="top:320.12px;font-size:5.90px;color:#505050;left:542.31px;transform-origin:50% 50%;">31,775</div>
<div class="t" style="top:320.12px;font-size:5.90px;color:#505050;left:614.78px;transform-origin:50% 50%;">31,775</div>
<div class="t" style="top:320.12px;font-size:5.90px;color:#505050;left:687.24px;transform-origin:50% 50%;">31,775</div>
<div class="t" style="top:320.12px;font-size:5.90px;color:#505050;left:759.71px;transform-origin:50% 50%;">31,775</div>
<div class="t" style="top:320.12px;font-size:5.90px;color:#505050;left:832.18px;transform-origin:50% 50%;">31,775</div>
<div class="t" style="top:320.12px;font-size:5.90px;color:#505050;left:904.64px;transform-origin:50% 50%;">31,775</div>
<div class="abs" style="left:41.0px;top:331.50px;width:3.4px;height:3.4px;background:#636363"></div>
<div class="t" style="top:330.17px;font-size:6.00px;color:#505050;left:46.20px;transform-origin:0 50%;transform:scaleX(0.956);">Steel Tubes</div>
<div class="t" style="top:330.82px;font-size:5.90px;color:#505050;left:107.51px;transform-origin:50% 50%;">47,250</div>
<div class="t" style="top:330.82px;font-size:5.90px;color:#505050;left:179.98px;transform-origin:50% 50%;">47,250</div>
<div class="t" style="top:330.82px;font-size:5.90px;color:#505050;left:252.44px;transform-origin:50% 50%;">47,250</div>
<div class="t" style="top:330.82px;font-size:5.90px;color:#505050;left:324.91px;transform-origin:50% 50%;">47,250</div>
<div class="t" style="top:330.82px;font-size:5.90px;color:#505050;left:397.38px;transform-origin:50% 50%;">47,250</div>
<div class="t" style="top:330.82px;font-size:5.90px;color:#505050;left:469.84px;transform-origin:50% 50%;">47,250</div>
<div class="t" style="top:330.82px;font-size:5.90px;color:#505050;left:542.31px;transform-origin:50% 50%;">47,250</div>
<div class="t" style="top:330.82px;font-size:5.90px;color:#505050;left:614.78px;transform-origin:50% 50%;">47,250</div>
<div class="t" style="top:330.82px;font-size:5.90px;color:#505050;left:687.24px;transform-origin:50% 50%;">47,250</div>
<div class="t" style="top:330.82px;font-size:5.90px;color:#505050;left:759.71px;transform-origin:50% 50%;">47,250</div>
<div class="t" style="top:330.82px;font-size:5.90px;color:#505050;left:832.18px;transform-origin:50% 50%;">47,250</div>
<div class="t" style="top:330.82px;font-size:5.90px;color:#505050;left:904.64px;transform-origin:50% 50%;">47,250</div>
<div class="abs" style="left:41.0px;top:342.20px;width:3.4px;height:3.4px;background:#997300"></div>
<div class="t" style="top:340.87px;font-size:6.00px;color:#505050;left:46.20px;transform-origin:0 50%;transform:scaleX(0.935);">Steel Scrap</div>
<div class="t" style="top:341.52px;font-size:5.90px;color:#505050;left:107.51px;transform-origin:50% 50%;">46,150</div>
<div class="t" style="top:341.52px;font-size:5.90px;color:#505050;left:179.98px;transform-origin:50% 50%;">46,150</div>
<div class="t" style="top:341.52px;font-size:5.90px;color:#505050;left:252.44px;transform-origin:50% 50%;">46,150</div>
<div class="t" style="top:341.52px;font-size:5.90px;color:#505050;left:324.91px;transform-origin:50% 50%;">46,150</div>
<div class="t" style="top:341.52px;font-size:5.90px;color:#505050;left:397.38px;transform-origin:50% 50%;">46,150</div>
<div class="t" style="top:341.52px;font-size:5.90px;color:#505050;left:469.84px;transform-origin:50% 50%;">46,150</div>
<div class="t" style="top:341.52px;font-size:5.90px;color:#505050;left:542.31px;transform-origin:50% 50%;">46,150</div>
<div class="t" style="top:341.52px;font-size:5.90px;color:#505050;left:614.78px;transform-origin:50% 50%;">46,150</div>
<div class="t" style="top:341.52px;font-size:5.90px;color:#505050;left:687.24px;transform-origin:50% 50%;">46,150</div>
<div class="t" style="top:341.52px;font-size:5.90px;color:#505050;left:759.71px;transform-origin:50% 50%;">46,150</div>
<div class="t" style="top:341.52px;font-size:5.90px;color:#505050;left:832.18px;transform-origin:50% 50%;">46,150</div>
<div class="t" style="top:341.52px;font-size:5.90px;color:#505050;left:904.64px;transform-origin:50% 50%;">46,150</div>
<div class="chart" style="left:24.6px;top:355.8px;width:934.4px;height:284.2px"></div>
<div class="t" style="top:365.63px;font-size:11.40px;color:#595959;left:421.59px;transform-origin:50% 50%;transform:scaleX(0.977);">2035 Services Total Earned</div>
<div class="abs" style="left:253.75px;top:390.2px;width:3.8px;height:3.8px;background:#4472c4"></div>
<div class="t" style="top:389.08px;font-size:6.60px;color:#4c4c4c;left:259.95px;transform-origin:0 50%;transform:scaleX(0.958);">Steel Plates</div>
<div class="abs" style="left:304.25px;top:390.2px;width:3.8px;height:3.8px;background:#ed7d31"></div>
<div class="t" style="top:389.08px;font-size:6.60px;color:#4c4c4c;left:310.45px;transform-origin:0 50%;transform:scaleX(0.949);">Steel Beams</div>
<div class="abs" style="left:356.25px;top:390.2px;width:3.8px;height:3.8px;background:#a5a5a5"></div>
<div class="t" style="top:389.08px;font-size:6.60px;color:#4c4c4c;left:362.45px;transform-origin:0 50%;transform:scaleX(0.949);">Steel Sheets</div>
<div class="abs" style="left:408px;top:390.2px;width:3.8px;height:3.8px;background:#ffc000"></div>
<div class="t" style="top:389.08px;font-size:6.60px;color:#4c4c4c;left:414.20px;transform-origin:0 50%;transform:scaleX(0.951);">Steel Coils</div>
<div class="abs" style="left:454.25px;top:390.2px;width:3.8px;height:3.8px;background:#5b9bd5"></div>
<div class="t" style="top:389.08px;font-size:6.60px;color:#4c4c4c;left:460.45px;transform-origin:0 50%;transform:scaleX(0.952);">Steel Bars</div>
<div class="abs" style="left:499px;top:390.2px;width:3.8px;height:3.8px;background:#70ad47"></div>
<div class="t" style="top:389.08px;font-size:6.60px;color:#4c4c4c;left:505.20px;transform-origin:0 50%;transform:scaleX(0.964);">Steel Pipes</div>
<div class="abs" style="left:547px;top:390.2px;width:3.8px;height:3.8px;background:#264478"></div>
<div class="t" style="top:389.08px;font-size:6.60px;color:#4c4c4c;left:553.20px;transform-origin:0 50%;transform:scaleX(0.986);">Steel Wire</div>
<div class="abs" style="left:593.2px;top:390.2px;width:3.8px;height:3.8px;background:#9e480e"></div>
<div class="t" style="top:389.08px;font-size:6.60px;color:#4c4c4c;left:599.40px;transform-origin:0 50%;transform:scaleX(0.954);">Steel Rebar</div>
<div class="abs" style="left:642.5px;top:390.2px;width:3.8px;height:3.8px;background:#636363"></div>
<div class="t" style="top:389.08px;font-size:6.60px;color:#4c4c4c;left:648.70px;transform-origin:0 50%;transform:scaleX(0.964);">Steel Tubes</div>
<div class="abs" style="left:693.3px;top:390.2px;width:3.8px;height:3.8px;background:#997300"></div>
<div class="t" style="top:389.08px;font-size:6.60px;color:#4c4c4c;left:699.50px;transform-origin:0 50%;transform:scaleX(0.923);">Steel Scrap</div>
<div class="abs" style="left:80.3px;top:406.8px;width:869.6px;height:75.39999999999998px;background:#f2f2f2"></div>
<div class="abs" style="left:80.3px;top:481.7px;width:869.6px;height:1px;background:#fafafa"></div>
<div class="t" style="top:479.62px;font-size:6.50px;color:#525252;left:69.68px;transform-origin:100% 50%;">0</div>
<div class="abs" style="left:80.3px;top:474.15999999999997px;width:869.6px;height:1px;background:#fafafa"></div>
<div class="t" style="top:472.08px;font-size:6.50px;color:#525252;left:53.42px;transform-origin:100% 50%;">20,000</div>
<div class="abs" style="left:80.3px;top:466.62px;width:869.6px;height:1px;background:#fafafa"></div>
<div class="t" style="top:464.54px;font-size:6.50px;color:#525252;left:53.42px;transform-origin:100% 50%;">40,000</div>
<div class="abs" style="left:80.3px;top:459.08px;width:869.6px;height:1px;background:#fafafa"></div>
<div class="t" style="top:457.00px;font-size:6.50px;color:#525252;left:53.42px;transform-origin:100% 50%;">60,000</div>
<div class="abs" style="left:80.3px;top:451.54px;width:869.6px;height:1px;background:#fafafa"></div>
<div class="t" style="top:449.46px;font-size:6.50px;color:#525252;left:53.42px;transform-origin:100% 50%;">80,000</div>
<div class="abs" style="left:80.3px;top:444.0px;width:869.6px;height:1px;background:#fafafa"></div>
<div class="t" style="top:441.92px;font-size:6.50px;color:#525252;left:49.80px;transform-origin:100% 50%;">100,000</div>
<div class="abs" style="left:80.3px;top:436.46px;width:869.6px;height:1px;background:#fafafa"></div>
<div class="t" style="top:434.38px;font-size:6.50px;color:#525252;left:49.80px;transform-origin:100% 50%;">120,000</div>
<div class="abs" style="left:80.3px;top:428.92px;width:869.6px;height:1px;background:#fafafa"></div>
<div class="t" style="top:426.84px;font-size:6.50px;color:#525252;left:49.80px;transform-origin:100% 50%;">140,000</div>
<div class="abs" style="left:80.3px;top:421.38px;width:869.6px;height:1px;background:#fafafa"></div>
<div class="t" style="top:419.30px;font-size:6.50px;color:#525252;left:49.80px;transform-origin:100% 50%;">160,000</div>
<div class="abs" style="left:80.3px;top:413.84000000000003px;width:869.6px;height:1px;background:#fafafa"></div>
<div class="t" style="top:411.76px;font-size:6.50px;color:#525252;left:49.80px;transform-origin:100% 50%;">180,000</div>
<div class="abs" style="left:80.3px;top:406.3px;width:869.6px;height:1px;background:#fafafa"></div>
<div class="t" style="top:404.22px;font-size:6.50px;color:#525252;left:49.80px;transform-origin:100% 50%;">200,000</div>
<div class="abs" style="left:85.73px;top:411.34px;width:4.96px;height:70.86px;background:#4472c4"></div>
<div class="abs" style="left:92.02px;top:457.75px;width:4.96px;height:24.45px;background:#ed7d31"></div>
<div class="abs" style="left:98.32px;top:468.29px;width:4.96px;height:13.91px;background:#a5a5a5"></div>
<div class="abs" style="left:104.61px;top:475.61px;width:4.96px;height:6.59px;background:#ffc000"></div>
<div class="abs" style="left:110.91px;top:451.38px;width:4.96px;height:30.82px;background:#5b9bd5"></div>
<div class="abs" style="left:117.20px;top:475.31px;width:4.96px;height:6.89px;background:#70ad47"></div>
<div class="abs" style="left:123.50px;top:463.14px;width:4.96px;height:19.06px;background:#264478"></div>
<div class="abs" style="left:129.79px;top:470.29px;width:4.96px;height:11.91px;background:#9e480e"></div>
<div class="abs" style="left:136.09px;top:464.49px;width:4.96px;height:17.71px;background:#636363"></div>
<div class="abs" style="left:142.38px;top:464.91px;width:4.96px;height:17.29px;background:#997300"></div>
<div class="abs" style="left:158.19px;top:411.34px;width:4.96px;height:70.86px;background:#4472c4"></div>
<div class="abs" style="left:164.49px;top:457.75px;width:4.96px;height:24.45px;background:#ed7d31"></div>
<div class="abs" style="left:170.78px;top:468.29px;width:4.96px;height:13.91px;background:#a5a5a5"></div>
<div class="abs" style="left:177.08px;top:475.61px;width:4.96px;height:6.59px;background:#ffc000"></div>
<div class="abs" style="left:183.37px;top:451.38px;width:4.96px;height:30.82px;background:#5b9bd5"></div>
<div class="abs" style="left:189.67px;top:475.31px;width:4.96px;height:6.89px;background:#70ad47"></div>
<div class="abs" style="left:195.96px;top:463.14px;width:4.96px;height:19.06px;background:#264478"></div>
<div class="abs" style="left:202.26px;top:470.29px;width:4.96px;height:11.91px;background:#9e480e"></div>
<div class="abs" style="left:208.55px;top:464.49px;width:4.96px;height:17.71px;background:#636363"></div>
<div class="abs" style="left:214.85px;top:464.91px;width:4.96px;height:17.29px;background:#997300"></div>
<div class="abs" style="left:230.66px;top:411.34px;width:4.96px;height:70.86px;background:#4472c4"></div>
<div class="abs" style="left:236.96px;top:457.75px;width:4.96px;height:24.45px;background:#ed7d31"></div>
<div class="abs" style="left:243.25px;top:468.29px;width:4.96px;height:13.91px;background:#a5a5a5"></div>
<div class="abs" style="left:249.55px;top:475.61px;width:4.96px;height:6.59px;background:#ffc000"></div>
<div class="abs" style="left:255.84px;top:451.38px;width:4.96px;height:30.82px;background:#5b9bd5"></div>
<div class="abs" style="left:262.14px;top:475.31px;width:4.96px;height:6.89px;background:#70ad47"></div>
<div class="abs" style="left:268.43px;top:463.14px;width:4.96px;height:19.06px;background:#264478"></div>
<div class="abs" style="left:274.73px;top:470.29px;width:4.96px;height:11.91px;background:#9e480e"></div>
<div class="abs" style="left:281.02px;top:464.49px;width:4.96px;height:17.71px;background:#636363"></div>
<div class="abs" style="left:287.32px;top:464.91px;width:4.96px;height:17.29px;background:#997300"></div>
<div class="abs" style="left:303.13px;top:411.34px;width:4.96px;height:70.86px;background:#4472c4"></div>
<div class="abs" style="left:309.42px;top:457.75px;width:4.96px;height:24.45px;background:#ed7d31"></div>
<div class="abs" style="left:315.72px;top:468.29px;width:4.96px;height:13.91px;background:#a5a5a5"></div>
<div class="abs" style="left:322.01px;top:475.61px;width:4.96px;height:6.59px;background:#ffc000"></div>
<div class="abs" style="left:328.31px;top:451.38px;width:4.96px;height:30.82px;background:#5b9bd5"></div>
<div class="abs" style="left:334.60px;top:475.31px;width:4.96px;height:6.89px;background:#70ad47"></div>
<div class="abs" style="left:340.90px;top:463.14px;width:4.96px;height:19.06px;background:#264478"></div>
<div class="abs" style="left:347.19px;top:470.29px;width:4.96px;height:11.91px;background:#9e480e"></div>
<div class="abs" style="left:353.49px;top:464.49px;width:4.96px;height:17.71px;background:#636363"></div>
<div class="abs" style="left:359.78px;top:464.91px;width:4.96px;height:17.29px;background:#997300"></div>
<div class="abs" style="left:375.59px;top:411.34px;width:4.96px;height:70.86px;background:#4472c4"></div>
<div class="abs" style="left:381.89px;top:457.75px;width:4.96px;height:24.45px;background:#ed7d31"></div>
<div class="abs" style="left:388.18px;top:468.29px;width:4.96px;height:13.91px;background:#a5a5a5"></div>
<div class="abs" style="left:394.48px;top:475.61px;width:4.96px;height:6.59px;background:#ffc000"></div>
<div class="abs" style="left:400.77px;top:451.38px;width:4.96px;height:30.82px;background:#5b9bd5"></div>
<div class="abs" style="left:407.07px;top:475.31px;width:4.96px;height:6.89px;background:#70ad47"></div>
<div class="abs" style="left:413.36px;top:463.14px;width:4.96px;height:19.06px;background:#264478"></div>
<div class="abs" style="left:419.66px;top:470.29px;width:4.96px;height:11.91px;background:#9e480e"></div>
<div class="abs" style="left:425.95px;top:464.49px;width:4.96px;height:17.71px;background:#636363"></div>
<div class="abs" style="left:432.25px;top:464.91px;width:4.96px;height:17.29px;background:#997300"></div>
<div class="abs" style="left:448.06px;top:411.34px;width:4.96px;height:70.86px;background:#4472c4"></div>
<div class="abs" style="left:454.36px;top:457.75px;width:4.96px;height:24.45px;background:#ed7d31"></div>
<div class="abs" style="left:460.65px;top:468.29px;width:4.96px;height:13.91px;background:#a5a5a5"></div>
<div class="abs" style="left:466.95px;top:475.61px;width:4.96px;height:6.59px;background:#ffc000"></div>
<div class="abs" style="left:473.24px;top:451.38px;width:4.96px;height:30.82px;background:#5b9bd5"></div>
<div class="abs" style="left:479.54px;top:475.31px;width:4.96px;height:6.89px;background:#70ad47"></div>
<div class="abs" style="left:485.83px;top:463.14px;width:4.96px;height:19.06px;background:#264478"></div>
<div class="abs" style="left:492.13px;top:470.29px;width:4.96px;height:11.91px;background:#9e480e"></div>
<div class="abs" style="left:498.42px;top:464.49px;width:4.96px;height:17.71px;background:#636363"></div>
<div class="abs" style="left:504.72px;top:464.91px;width:4.96px;height:17.29px;background:#997300"></div>
<div class="abs" style="left:520.53px;top:411.34px;width:4.96px;height:70.86px;background:#4472c4"></div>
<div class="abs" style="left:526.82px;top:457.75px;width:4.96px;height:24.45px;background:#ed7d31"></div>
<div class="abs" style="left:533.12px;top:468.29px;width:4.96px;height:13.91px;background:#a5a5a5"></div>
<div class="abs" style="left:539.41px;top:475.61px;width:4.96px;height:6.59px;background:#ffc000"></div>
<div class="abs" style="left:545.71px;top:451.38px;width:4.96px;height:30.82px;background:#5b9bd5"></div>
<div class="abs" style="left:552.00px;top:475.31px;width:4.96px;height:6.89px;background:#70ad47"></div>
<div class="abs" style="left:558.30px;top:463.14px;width:4.96px;height:19.06px;background:#264478"></div>
<div class="abs" style="left:564.59px;top:470.29px;width:4.96px;height:11.91px;background:#9e480e"></div>
<div class="abs" style="left:570.89px;top:464.49px;width:4.96px;height:17.71px;background:#636363"></div>
<div class="abs" style="left:577.18px;top:464.91px;width:4.96px;height:17.29px;background:#997300"></div>
<div class="abs" style="left:592.99px;top:411.34px;width:4.96px;height:70.86px;background:#4472c4"></div>
<div class="abs" style="left:599.29px;top:457.75px;width:4.96px;height:24.45px;background:#ed7d31"></div>
<div class="abs" style="left:605.58px;top:468.29px;width:4.96px;height:13.91px;background:#a5a5a5"></div>
<div class="abs" style="left:611.88px;top:475.61px;width:4.96px;height:6.59px;background:#ffc000"></div>
<div class="abs" style="left:618.17px;top:451.38px;width:4.96px;height:30.82px;background:#5b9bd5"></div>
<div class="abs" style="left:624.47px;top:475.31px;width:4.96px;height:6.89px;background:#70ad47"></div>
<div class="abs" style="left:630.76px;top:463.14px;width:4.96px;height:19.06px;background:#264478"></div>
<div class="abs" style="left:637.06px;top:470.29px;width:4.96px;height:11.91px;background:#9e480e"></div>
<div class="abs" style="left:643.35px;top:464.49px;width:4.96px;height:17.71px;background:#636363"></div>
<div class="abs" style="left:649.65px;top:464.91px;width:4.96px;height:17.29px;background:#997300"></div>
<div class="abs" style="left:665.46px;top:411.34px;width:4.96px;height:70.86px;background:#4472c4"></div>
<div class="abs" style="left:671.76px;top:457.75px;width:4.96px;height:24.45px;background:#ed7d31"></div>
<div class="abs" style="left:678.05px;top:468.29px;width:4.96px;height:13.91px;background:#a5a5a5"></div>
<div class="abs" style="left:684.35px;top:475.61px;width:4.96px;height:6.59px;background:#ffc000"></div>
<div class="abs" style="left:690.64px;top:451.38px;width:4.96px;height:30.82px;background:#5b9bd5"></div>
<div class="abs" style="left:696.94px;top:475.31px;width:4.96px;height:6.89px;background:#70ad47"></div>
<div class="abs" style="left:703.23px;top:463.14px;width:4.96px;height:19.06px;background:#264478"></div>
<div class="abs" style="left:709.53px;top:470.29px;width:4.96px;height:11.91px;background:#9e480e"></div>
<div class="abs" style="left:715.82px;top:464.49px;width:4.96px;height:17.71px;background:#636363"></div>
<div class="abs" style="left:722.12px;top:464.91px;width:4.96px;height:17.29px;background:#997300"></div>
<div class="abs" style="left:737.93px;top:411.34px;width:4.96px;height:70.86px;background:#4472c4"></div>
<div class="abs" style="left:744.22px;top:457.75px;width:4.96px;height:24.45px;background:#ed7d31"></div>
<div class="abs" style="left:750.52px;top:468.29px;width:4.96px;height:13.91px;background:#a5a5a5"></div>
<div class="abs" style="left:756.81px;top:475.61px;width:4.96px;height:6.59px;background:#ffc000"></div>
<div class="abs" style="left:763.11px;top:451.38px;width:4.96px;height:30.82px;background:#5b9bd5"></div>
<div class="abs" style="left:769.40px;top:475.31px;width:4.96px;height:6.89px;background:#70ad47"></div>
<div class="abs" style="left:775.70px;top:463.14px;width:4.96px;height:19.06px;background:#264478"></div>
<div class="abs" style="left:781.99px;top:470.29px;width:4.96px;height:11.91px;background:#9e480e"></div>
<div class="abs" style="left:788.29px;top:464.49px;width:4.96px;height:17.71px;background:#636363"></div>
<div class="abs" style="left:794.58px;top:464.91px;width:4.96px;height:17.29px;background:#997300"></div>
<div class="abs" style="left:810.39px;top:411.34px;width:4.96px;height:70.86px;background:#4472c4"></div>
<div class="abs" style="left:816.69px;top:457.75px;width:4.96px;height:24.45px;background:#ed7d31"></div>
<div class="abs" style="left:822.98px;top:468.29px;width:4.96px;height:13.91px;background:#a5a5a5"></div>
<div class="abs" style="left:829.28px;top:475.61px;width:4.96px;height:6.59px;background:#ffc000"></div>
<div class="abs" style="left:835.57px;top:451.38px;width:4.96px;height:30.82px;background:#5b9bd5"></div>
<div class="abs" style="left:841.87px;top:475.31px;width:4.96px;height:6.89px;background:#70ad47"></div>
<div class="abs" style="left:848.16px;top:463.14px;width:4.96px;height:19.06px;background:#264478"></div>
<div class="abs" style="left:854.46px;top:470.29px;width:4.96px;height:11.91px;background:#9e480e"></div>
<div class="abs" style="left:860.75px;top:464.49px;width:4.96px;height:17.71px;background:#636363"></div>
<div class="abs" style="left:867.05px;top:464.91px;width:4.96px;height:17.29px;background:#997300"></div>
<div class="abs" style="left:882.86px;top:411.34px;width:4.96px;height:70.86px;background:#4472c4"></div>
<div class="abs" style="left:889.16px;top:457.75px;width:4.96px;height:24.45px;background:#ed7d31"></div>
<div class="abs" style="left:895.45px;top:468.29px;width:4.96px;height:13.91px;background:#a5a5a5"></div>
<div class="abs" style="left:901.75px;top:475.61px;width:4.96px;height:6.59px;background:#ffc000"></div>
<div class="abs" style="left:908.04px;top:451.38px;width:4.96px;height:30.82px;background:#5b9bd5"></div>
<div class="abs" style="left:914.34px;top:475.31px;width:4.96px;height:6.89px;background:#70ad47"></div>
<div class="abs" style="left:920.63px;top:463.14px;width:4.96px;height:19.06px;background:#264478"></div>
<div class="abs" style="left:926.93px;top:470.29px;width:4.96px;height:11.91px;background:#9e480e"></div>
<div class="abs" style="left:933.22px;top:464.49px;width:4.96px;height:17.71px;background:#636363"></div>
<div class="abs" style="left:939.52px;top:464.91px;width:4.96px;height:17.29px;background:#997300"></div>
<div class="abs" style="left:79.80px;top:406.8px;width:1px;height:75.39999999999998px;background:#fbfbfb"></div>
<div class="abs" style="left:79.80px;top:482.2px;width:1px;height:117.94999999999999px;background:#eeeeee"></div>
<div class="abs" style="left:152.27px;top:406.8px;width:1px;height:75.39999999999998px;background:#fbfbfb"></div>
<div class="abs" style="left:152.27px;top:482.2px;width:1px;height:117.94999999999999px;background:#eeeeee"></div>
<div class="abs" style="left:224.73px;top:406.8px;width:1px;height:75.39999999999998px;background:#fbfbfb"></div>
<div class="abs" style="left:224.73px;top:482.2px;width:1px;height:117.94999999999999px;background:#eeeeee"></div>
<div class="abs" style="left:297.20px;top:406.8px;width:1px;height:75.39999999999998px;background:#fbfbfb"></div>
<div class="abs" style="left:297.20px;top:482.2px;width:1px;height:117.94999999999999px;background:#eeeeee"></div>
<div class="abs" style="left:369.67px;top:406.8px;width:1px;height:75.39999999999998px;background:#fbfbfb"></div>
<div class="abs" style="left:369.67px;top:482.2px;width:1px;height:117.94999999999999px;background:#eeeeee"></div>
<div class="abs" style="left:442.13px;top:406.8px;width:1px;height:75.39999999999998px;background:#fbfbfb"></div>
<div class="abs" style="left:442.13px;top:482.2px;width:1px;height:117.94999999999999px;background:#eeeeee"></div>
<div class="abs" style="left:514.60px;top:406.8px;width:1px;height:75.39999999999998px;background:#fbfbfb"></div>
<div class="abs" style="left:514.60px;top:482.2px;width:1px;height:117.94999999999999px;background:#eeeeee"></div>
<div class="abs" style="left:587.07px;top:406.8px;width:1px;height:75.39999999999998px;background:#fbfbfb"></div>
<div class="abs" style="left:587.07px;top:482.2px;width:1px;height:117.94999999999999px;background:#eeeeee"></div>
<div class="abs" style="left:659.53px;top:406.8px;width:1px;height:75.39999999999998px;background:#fbfbfb"></div>
<div class="abs" style="left:659.53px;top:482.2px;width:1px;height:117.94999999999999px;background:#eeeeee"></div>
<div class="abs" style="left:732.00px;top:406.8px;width:1px;height:75.39999999999998px;background:#fbfbfb"></div>
<div class="abs" style="left:732.00px;top:482.2px;width:1px;height:117.94999999999999px;background:#eeeeee"></div>
<div class="abs" style="left:804.47px;top:406.8px;width:1px;height:75.39999999999998px;background:#fbfbfb"></div>
<div class="abs" style="left:804.47px;top:482.2px;width:1px;height:117.94999999999999px;background:#eeeeee"></div>
<div class="abs" style="left:876.93px;top:406.8px;width:1px;height:75.39999999999998px;background:#fbfbfb"></div>
<div class="abs" style="left:876.93px;top:482.2px;width:1px;height:117.94999999999999px;background:#eeeeee"></div>
<div class="abs" style="left:949.40px;top:406.8px;width:1px;height:75.39999999999998px;background:#fbfbfb"></div>
<div class="abs" style="left:949.40px;top:482.2px;width:1px;height:117.94999999999999px;background:#eeeeee"></div>
<div class="abs" style="left:39.3px;top:493.15px;width:1px;height:107.0px;background:#eeeeee"></div>
<div class="abs" style="left:39.8px;top:492.65px;width:910.1px;height:1px;background:#eeeeee"></div>
<div class="abs" style="left:39.8px;top:503.35px;width:910.1px;height:1px;background:#eeeeee"></div>
<div class="abs" style="left:39.8px;top:514.05px;width:910.1px;height:1px;background:#eeeeee"></div>
<div class="abs" style="left:39.8px;top:524.75px;width:910.1px;height:1px;background:#eeeeee"></div>
<div class="abs" style="left:39.8px;top:535.45px;width:910.1px;height:1px;background:#eeeeee"></div>
<div class="abs" style="left:39.8px;top:546.15px;width:910.1px;height:1px;background:#eeeeee"></div>
<div class="abs" style="left:39.8px;top:556.85px;width:910.1px;height:1px;background:#eeeeee"></div>
<div class="abs" style="left:39.8px;top:567.55px;width:910.1px;height:1px;background:#eeeeee"></div>
<div class="abs" style="left:39.8px;top:578.25px;width:910.1px;height:1px;background:#eeeeee"></div>
<div class="abs" style="left:39.8px;top:588.95px;width:910.1px;height:1px;background:#eeeeee"></div>
<div class="abs" style="left:39.8px;top:599.65px;width:910.1px;height:1px;background:#eeeeee"></div>
<div class="t" style="top:484.87px;font-size:6.00px;color:#525252;left:111.70px;transform-origin:50% 50%;">Jan</div>
<div class="t" style="top:484.87px;font-size:6.00px;color:#525252;left:183.83px;transform-origin:50% 50%;">Feb</div>
<div class="t" style="top:484.87px;font-size:6.00px;color:#525252;left:256.30px;transform-origin:50% 50%;">Mar</div>
<div class="t" style="top:484.87px;font-size:6.00px;color:#525252;left:329.26px;transform-origin:50% 50%;">Apr</div>
<div class="t" style="top:484.87px;font-size:6.00px;color:#525252;left:400.73px;transform-origin:50% 50%;">May</div>
<div class="t" style="top:484.87px;font-size:6.00px;color:#525252;left:474.03px;transform-origin:50% 50%;">Jun</div>
<div class="t" style="top:484.87px;font-size:6.00px;color:#525252;left:547.50px;transform-origin:50% 50%;">Jul</div>
<div class="t" style="top:484.87px;font-size:6.00px;color:#525252;left:618.46px;transform-origin:50% 50%;">Aug</div>
<div class="t" style="top:484.87px;font-size:6.00px;color:#525252;left:690.93px;transform-origin:50% 50%;">Sep</div>
<div class="t" style="top:484.87px;font-size:6.00px;color:#525252;left:764.07px;transform-origin:50% 50%;">Oct</div>
<div class="t" style="top:484.87px;font-size:6.00px;color:#525252;left:835.87px;transform-origin:50% 50%;">Nov</div>
<div class="t" style="top:484.87px;font-size:6.00px;color:#525252;left:908.33px;transform-origin:50% 50%;">Dec</div>
<div class="abs" style="left:41.0px;top:496.90px;width:3.4px;height:3.4px;background:#4472c4"></div>
<div class="t" style="top:495.57px;font-size:6.00px;color:#505050;left:46.20px;transform-origin:0 50%;transform:scaleX(0.953);">Steel Plates</div>
<div class="t" style="top:496.22px;font-size:5.90px;color:#505050;left:105.87px;transform-origin:50% 50%;">189,100</div>
<div class="t" style="top:496.22px;font-size:5.90px;color:#505050;left:178.34px;transform-origin:50% 50%;">189,100</div>
<div class="t" style="top:496.22px;font-size:5.90px;color:#505050;left:250.80px;transform-origin:50% 50%;">189,100</div>
<div class="t" style="top:496.22px;font-size:5.90px;color:#505050;left:323.27px;transform-origin:50% 50%;">189,100</div>
<div class="t" style="top:496.22px;font-size:5.90px;color:#505050;left:395.74px;transform-origin:50% 50%;">189,100</div>
<div class="t" style="top:496.22px;font-size:5.90px;color:#505050;left:468.20px;transform-origin:50% 50%;">189,100</div>
<div class="t" style="top:496.22px;font-size:5.90px;color:#505050;left:540.67px;transform-origin:50% 50%;">189,100</div>
<div class="t" style="top:496.22px;font-size:5.90px;color:#505050;left:613.14px;transform-origin:50% 50%;">189,100</div>
<div class="t" style="top:496.22px;font-size:5.90px;color:#505050;left:685.60px;transform-origin:50% 50%;">189,100</div>
<div class="t" style="top:496.22px;font-size:5.90px;color:#505050;left:758.07px;transform-origin:50% 50%;">189,100</div>
<div class="t" style="top:496.22px;font-size:5.90px;color:#505050;left:830.54px;transform-origin:50% 50%;">189,100</div>
<div class="t" style="top:496.22px;font-size:5.90px;color:#505050;left:903.00px;transform-origin:50% 50%;">189,100</div>
<div class="abs" style="left:41.0px;top:507.60px;width:3.4px;height:3.4px;background:#ed7d31"></div>
<div class="t" style="top:506.27px;font-size:6.00px;color:#505050;left:46.20px;transform-origin:0 50%;transform:scaleX(0.941);">Steel Beams</div>
<div class="t" style="top:506.92px;font-size:5.90px;color:#505050;left:107.51px;transform-origin:50% 50%;">65,250</div>
<div class="t" style="top:506.92px;font-size:5.90px;color:#505050;left:179.98px;transform-origin:50% 50%;">65,250</div>
<div class="t" style="top:506.92px;font-size:5.90px;color:#505050;left:252.44px;transform-origin:50% 50%;">65,250</div>
<div class="t" style="top:506.92px;font-size:5.90px;color:#505050;left:324.91px;transform-origin:50% 50%;">65,250</div>
<div class="t" style="top:506.92px;font-size:5.90px;color:#505050;left:397.38px;transform-origin:50% 50%;">65,250</div>
<div class="t" style="top:506.92px;font-size:5.90px;color:#505050;left:469.84px;transform-origin:50% 50%;">65,250</div>
<div class="t" style="top:506.92px;font-size:5.90px;color:#505050;left:542.31px;transform-origin:50% 50%;">65,250</div>
<div class="t" style="top:506.92px;font-size:5.90px;color:#505050;left:614.78px;transform-origin:50% 50%;">65,250</div>
<div class="t" style="top:506.92px;font-size:5.90px;color:#505050;left:687.24px;transform-origin:50% 50%;">65,250</div>
<div class="t" style="top:506.92px;font-size:5.90px;color:#505050;left:759.71px;transform-origin:50% 50%;">65,250</div>
<div class="t" style="top:506.92px;font-size:5.90px;color:#505050;left:832.18px;transform-origin:50% 50%;">65,250</div>
<div class="t" style="top:506.92px;font-size:5.90px;color:#505050;left:904.64px;transform-origin:50% 50%;">65,250</div>
<div class="abs" style="left:41.0px;top:518.30px;width:3.4px;height:3.4px;background:#a5a5a5"></div>
<div class="t" style="top:516.97px;font-size:6.00px;color:#505050;left:46.20px;transform-origin:0 50%;transform:scaleX(0.941);">Steel Sheets</div>
<div class="t" style="top:517.62px;font-size:5.90px;color:#505050;left:107.51px;transform-origin:50% 50%;">37,125</div>
<div class="t" style="top:517.62px;font-size:5.90px;color:#505050;left:179.98px;transform-origin:50% 50%;">37,125</div>
<div class="t" style="top:517.62px;font-size:5.90px;color:#505050;left:252.44px;transform-origin:50% 50%;">37,125</div>
<div class="t" style="top:517.62px;font-size:5.90px;color:#505050;left:324.91px;transform-origin:50% 50%;">37,125</div>
<div class="t" style="top:517.62px;font-size:5.90px;color:#505050;left:397.38px;transform-origin:50% 50%;">37,125</div>
<div class="t" style="top:517.62px;font-size:5.90px;color:#505050;left:469.84px;transform-origin:50% 50%;">37,125</div>
<div class="t" style="top:517.62px;font-size:5.90px;color:#505050;left:542.31px;transform-origin:50% 50%;">37,125</div>
<div class="t" style="top:517.62px;font-size:5.90px;color:#505050;left:614.78px;transform-origin:50% 50%;">37,125</div>
<div class="t" style="top:517.62px;font-size:5.90px;color:#505050;left:687.24px;transform-origin:50% 50%;">37,125</div>
<div class="t" style="top:517.62px;font-size:5.90px;color:#505050;left:759.71px;transform-origin:50% 50%;">37,125</div>
<div class="t" style="top:517.62px;font-size:5.90px;color:#505050;left:832.18px;transform-origin:50% 50%;">37,125</div>
<div class="t" style="top:517.62px;font-size:5.90px;color:#505050;left:904.64px;transform-origin:50% 50%;">37,125</div>
<div class="abs" style="left:41.0px;top:529.00px;width:3.4px;height:3.4px;background:#ffc000"></div>
<div class="t" style="top:527.67px;font-size:6.00px;color:#505050;left:46.20px;transform-origin:0 50%;transform:scaleX(0.941);">Steel Coils</div>
<div class="t" style="top:528.32px;font-size:5.90px;color:#505050;left:107.51px;transform-origin:50% 50%;">17,575</div>
<div class="t" style="top:528.32px;font-size:5.90px;color:#505050;left:179.98px;transform-origin:50% 50%;">17,575</div>
<div class="t" style="top:528.32px;font-size:5.90px;color:#505050;left:252.44px;transform-origin:50% 50%;">17,575</div>
<div class="t" style="top:528.32px;font-size:5.90px;color:#505050;left:324.91px;transform-origin:50% 50%;">17,575</div>
<div class="t" style="top:528.32px;font-size:5.90px;color:#505050;left:397.38px;transform-origin:50% 50%;">17,575</div>
<div class="t" style="top:528.32px;font-size:5.90px;color:#505050;left:469.84px;transform-origin:50% 50%;">17,575</div>
<div class="t" style="top:528.32px;font-size:5.90px;color:#505050;left:542.31px;transform-origin:50% 50%;">17,575</div>
<div class="t" style="top:528.32px;font-size:5.90px;color:#505050;left:614.78px;transform-origin:50% 50%;">17,575</div>
<div class="t" style="top:528.32px;font-size:5.90px;color:#505050;left:687.24px;transform-origin:50% 50%;">17,575</div>
<div class="t" style="top:528.32px;font-size:5.90px;color:#505050;left:759.71px;transform-origin:50% 50%;">17,575</div>
<div class="t" style="top:528.32px;font-size:5.90px;color:#505050;left:832.18px;transform-origin:50% 50%;">17,575</div>
<div class="t" style="top:528.32px;font-size:5.90px;color:#505050;left:904.64px;transform-origin:50% 50%;">17,575</div>
<div class="abs" style="left:41.0px;top:539.70px;width:3.4px;height:3.4px;background:#5b9bd5"></div>
<div class="t" style="top:538.37px;font-size:6.00px;color:#505050;left:46.20px;transform-origin:0 50%;transform:scaleX(0.947);">Steel Bars</div>
<div class="t" style="top:539.02px;font-size:5.90px;color:#505050;left:107.51px;transform-origin:50% 50%;">82,250</div>
<div class="t" style="top:539.02px;font-size:5.90px;color:#505050;left:179.98px;transform-origin:50% 50%;">82,250</div>
<div class="t" style="top:539.02px;font-size:5.90px;color:#505050;left:252.44px;transform-origin:50% 50%;">82,250</div>
<div class="t" style="top:539.02px;font-size:5.90px;color:#505050;left:324.91px;transform-origin:50% 50%;">82,250</div>
<div class="t" style="top:539.02px;font-size:5.90px;color:#505050;left:397.38px;transform-origin:50% 50%;">82,250</div>
<div class="t" style="top:539.02px;font-size:5.90px;color:#505050;left:469.84px;transform-origin:50% 50%;">82,250</div>
<div class="t" style="top:539.02px;font-size:5.90px;color:#505050;left:542.31px;transform-origin:50% 50%;">82,250</div>
<div class="t" style="top:539.02px;font-size:5.90px;color:#505050;left:614.78px;transform-origin:50% 50%;">82,250</div>
<div class="t" style="top:539.02px;font-size:5.90px;color:#505050;left:687.24px;transform-origin:50% 50%;">82,250</div>
<div class="t" style="top:539.02px;font-size:5.90px;color:#505050;left:759.71px;transform-origin:50% 50%;">82,250</div>
<div class="t" style="top:539.02px;font-size:5.90px;color:#505050;left:832.18px;transform-origin:50% 50%;">82,250</div>
<div class="t" style="top:539.02px;font-size:5.90px;color:#505050;left:904.64px;transform-origin:50% 50%;">82,250</div>
<div class="abs" style="left:41.0px;top:550.40px;width:3.4px;height:3.4px;background:#70ad47"></div>
<div class="t" style="top:549.07px;font-size:6.00px;color:#505050;left:46.20px;transform-origin:0 50%;transform:scaleX(0.955);">Steel Pipes</div>
<div class="t" style="top:549.72px;font-size:5.90px;color:#505050;left:107.51px;transform-origin:50% 50%;">18,375</div>
<div class="t" style="top:549.72px;font-size:5.90px;color:#505050;left:179.98px;transform-origin:50% 50%;">18,375</div>
<div class="t" style="top:549.72px;font-size:5.90px;color:#505050;left:252.44px;transform-origin:50% 50%;">18,375</div>
<div class="t" style="top:549.72px;font-size:5.90px;color:#505050;left:324.91px;transform-origin:50% 50%;">18,375</div>
<div class="t" style="top:549.72px;font-size:5.90px;color:#505050;left:397.38px;transform-origin:50% 50%;">18,375</div>
<div class="t" style="top:549.72px;font-size:5.90px;color:#505050;left:469.84px;transform-origin:50% 50%;">18,375</div>
<div class="t" style="top:549.72px;font-size:5.90px;color:#505050;left:542.31px;transform-origin:50% 50%;">18,375</div>
<div class="t" style="top:549.72px;font-size:5.90px;color:#505050;left:614.78px;transform-origin:50% 50%;">18,375</div>
<div class="t" style="top:549.72px;font-size:5.90px;color:#505050;left:687.24px;transform-origin:50% 50%;">18,375</div>
<div class="t" style="top:549.72px;font-size:5.90px;color:#505050;left:759.71px;transform-origin:50% 50%;">18,375</div>
<div class="t" style="top:549.72px;font-size:5.90px;color:#505050;left:832.18px;transform-origin:50% 50%;">18,375</div>
<div class="t" style="top:549.72px;font-size:5.90px;color:#505050;left:904.64px;transform-origin:50% 50%;">18,375</div>
<div class="abs" style="left:41.0px;top:561.10px;width:3.4px;height:3.4px;background:#264478"></div>
<div class="t" style="top:559.77px;font-size:6.00px;color:#505050;left:46.20px;transform-origin:0 50%;transform:scaleX(0.976);">Steel Wire</div>
<div class="t" style="top:560.42px;font-size:5.90px;color:#505050;left:107.51px;transform-origin:50% 50%;">50,850</div>
<div class="t" style="top:560.42px;font-size:5.90px;color:#505050;left:179.98px;transform-origin:50% 50%;">50,850</div>
<div class="t" style="top:560.42px;font-size:5.90px;color:#505050;left:252.44px;transform-origin:50% 50%;">50,850</div>
<div class="t" style="top:560.42px;font-size:5.90px;color:#505050;left:324.91px;transform-origin:50% 50%;">50,850</div>
<div class="t" style="top:560.42px;font-size:5.90px;color:#505050;left:397.38px;transform-origin:50% 50%;">50,850</div>
<div class="t" style="top:560.42px;font-size:5.90px;color:#505050;left:469.84px;transform-origin:50% 50%;">50,850</div>
<div class="t" style="top:560.42px;font-size:5.90px;color:#505050;left:542.31px;transform-origin:50% 50%;">50,850</div>
<div class="t" style="top:560.42px;font-size:5.90px;color:#505050;left:614.78px;transform-origin:50% 50%;">50,850</div>
<div class="t" style="top:560.42px;font-size:5.90px;color:#505050;left:687.24px;transform-origin:50% 50%;">50,850</div>
<div class="t" style="top:560.42px;font-size:5.90px;color:#505050;left:759.71px;transform-origin:50% 50%;">50,850</div>
<div class="t" style="top:560.42px;font-size:5.90px;color:#505050;left:832.18px;transform-origin:50% 50%;">50,850</div>
<div class="t" style="top:560.42px;font-size:5.90px;color:#505050;left:904.64px;transform-origin:50% 50%;">50,850</div>
<div class="abs" style="left:41.0px;top:571.80px;width:3.4px;height:3.4px;background:#9e480e"></div>
<div class="t" style="top:570.47px;font-size:6.00px;color:#505050;left:46.20px;transform-origin:0 50%;transform:scaleX(0.947);">Steel Rebar</div>
<div class="t" style="top:571.12px;font-size:5.90px;color:#505050;left:107.51px;transform-origin:50% 50%;">31,775</div>
<div class="t" style="top:571.12px;font-size:5.90px;color:#505050;left:179.98px;transform-origin:50% 50%;">31,775</div>
<div class="t" style="top:571.12px;font-size:5.90px;color:#505050;left:252.44px;transform-origin:50% 50%;">31,775</div>
<div class="t" style="top:571.12px;font-size:5.90px;color:#505050;left:324.91px;transform-origin:50% 50%;">31,775</div>
<div class="t" style="top:571.12px;font-size:5.90px;color:#505050;left:397.38px;transform-origin:50% 50%;">31,775</div>
<div class="t" style="top:571.12px;font-size:5.90px;color:#505050;left:469.84px;transform-origin:50% 50%;">31,775</div>
<div class="t" style="top:571.12px;font-size:5.90px;color:#505050;left:542.31px;transform-origin:50% 50%;">31,775</div>
<div class="t" style="top:571.12px;font-size:5.90px;color:#505050;left:614.78px;transform-origin:50% 50%;">31,775</div>
<div class="t" style="top:571.12px;font-size:5.90px;color:#505050;left:687.24px;transform-origin:50% 50%;">31,775</div>
<div class="t" style="top:571.12px;font-size:5.90px;color:#505050;left:759.71px;transform-origin:50% 50%;">31,775</div>
<div class="t" style="top:571.12px;font-size:5.90px;color:#505050;left:832.18px;transform-origin:50% 50%;">31,775</div>
<div class="t" style="top:571.12px;font-size:5.90px;color:#505050;left:904.64px;transform-origin:50% 50%;">31,775</div>
<div class="abs" style="left:41.0px;top:582.50px;width:3.4px;height:3.4px;background:#636363"></div>
<div class="t" style="top:581.17px;font-size:6.00px;color:#505050;left:46.20px;transform-origin:0 50%;transform:scaleX(0.956);">Steel Tubes</div>
<div class="t" style="top:581.82px;font-size:5.90px;color:#505050;left:107.51px;transform-origin:50% 50%;">47,250</div>
<div class="t" style="top:581.82px;font-size:5.90px;color:#505050;left:179.98px;transform-origin:50% 50%;">47,250</div>
<div class="t" style="top:581.82px;font-size:5.90px;color:#505050;left:252.44px;transform-origin:50% 50%;">47,250</div>
<div class="t" style="top:581.82px;font-size:5.90px;color:#505050;left:324.91px;transform-origin:50% 50%;">47,250</div>
<div class="t" style="top:581.82px;font-size:5.90px;color:#505050;left:397.38px;transform-origin:50% 50%;">47,250</div>
<div class="t" style="top:581.82px;font-size:5.90px;color:#505050;left:469.84px;transform-origin:50% 50%;">47,250</div>
<div class="t" style="top:581.82px;font-size:5.90px;color:#505050;left:542.31px;transform-origin:50% 50%;">47,250</div>
<div class="t" style="top:581.82px;font-size:5.90px;color:#505050;left:614.78px;transform-origin:50% 50%;">47,250</div>
<div class="t" style="top:581.82px;font-size:5.90px;color:#505050;left:687.24px;transform-origin:50% 50%;">47,250</div>
<div class="t" style="top:581.82px;font-size:5.90px;color:#505050;left:759.71px;transform-origin:50% 50%;">47,250</div>
<div class="t" style="top:581.82px;font-size:5.90px;color:#505050;left:832.18px;transform-origin:50% 50%;">47,250</div>
<div class="t" style="top:581.82px;font-size:5.90px;color:#505050;left:904.64px;transform-origin:50% 50%;">47,250</div>
<div class="abs" style="left:41.0px;top:593.20px;width:3.4px;height:3.4px;background:#997300"></div>
<div class="t" style="top:591.87px;font-size:6.00px;color:#505050;left:46.20px;transform-origin:0 50%;transform:scaleX(0.935);">Steel Scrap</div>
<div class="t" style="top:592.52px;font-size:5.90px;color:#505050;left:107.51px;transform-origin:50% 50%;">46,150</div>
<div class="t" style="top:592.52px;font-size:5.90px;color:#505050;left:179.98px;transform-origin:50% 50%;">46,150</div>
<div class="t" style="top:592.52px;font-size:5.90px;color:#505050;left:252.44px;transform-origin:50% 50%;">46,150</div>
<div class="t" style="top:592.52px;font-size:5.90px;color:#505050;left:324.91px;transform-origin:50% 50%;">46,150</div>
<div class="t" style="top:592.52px;font-size:5.90px;color:#505050;left:397.38px;transform-origin:50% 50%;">46,150</div>
<div class="t" style="top:592.52px;font-size:5.90px;color:#505050;left:469.84px;transform-origin:50% 50%;">46,150</div>
<div class="t" style="top:592.52px;font-size:5.90px;color:#505050;left:542.31px;transform-origin:50% 50%;">46,150</div>
<div class="t" style="top:592.52px;font-size:5.90px;color:#505050;left:614.78px;transform-origin:50% 50%;">46,150</div>
<div class="t" style="top:592.52px;font-size:5.90px;color:#505050;left:687.24px;transform-origin:50% 50%;">46,150</div>
<div class="t" style="top:592.52px;font-size:5.90px;color:#505050;left:759.71px;transform-origin:50% 50%;">46,150</div>
<div class="t" style="top:592.52px;font-size:5.90px;color:#505050;left:832.18px;transform-origin:50% 50%;">46,150</div>
<div class="t" style="top:592.52px;font-size:5.90px;color:#505050;left:904.64px;transform-origin:50% 50%;">46,150</div>
</div></div>
<div class="abs" id="titlebar"></div>
<svg class="abs" style="left:10.8px;top:10px" width="9.8" height="10.6" viewBox="0 0 12 11" preserveAspectRatio="none"><rect x="4" y="0.5" width="7.5" height="10" fill="none" stroke="#fff" stroke-width="1"/><line x1="4" y1="3.8" x2="11.5" y2="3.8" stroke="#fff" stroke-width=".8"/><line x1="4" y1="7.1" x2="11.5" y2="7.1" stroke="#fff" stroke-width=".8"/><line x1="8" y1="0.5" x2="8" y2="10.5" stroke="#fff" stroke-width=".8"/><rect x="0" y="2" width="6.5" height="7" fill="#fff"/><path d="M1.6 3.6 L4.9 7.6 M4.9 3.6 L1.6 7.6" stroke="#107c41" stroke-width="1.1"/></svg>
<svg class="abs" style="left:31.6px;top:10.1px" width="9.8" height="10.6" viewBox="0 0 11 11" preserveAspectRatio="none"><path d="M0.5 0.5 H8.5 L10.5 2.5 V10.5 H0.5 Z" fill="none" stroke="#fff" stroke-width="1"/><rect x="2.5" y="0.5" width="5" height="3" fill="none" stroke="#fff" stroke-width="1"/><rect x="2.5" y="6.5" width="6" height="4" fill="none" stroke="#fff" stroke-width="1"/></svg>
<svg class="abs" style="left:49.5px;top:9.5px" width="11" height="12" viewBox="0 0 11 12"><path d="M1 1 V5 H5" fill="none" stroke="#fff" stroke-width="1.1"/><path d="M1.2 4.8 C3 2 7 1.5 8.8 4 C10.5 6.5 8.5 9.5 5 11" fill="none" stroke="#fff" stroke-width="1.1"/></svg>
<div class="abs" style="left:64.5px;top:14.2px;width:3.6px;height:1px;background:#fff"></div>
<svg class="abs" style="left:74px;top:9.5px;opacity:.35" width="11" height="12" viewBox="0 0 11 12"><path d="M10 1 V5 H6" fill="none" stroke="#fff" stroke-width="1.1"/><path d="M9.8 4.8 C8 2 4 1.5 2.2 4 C0.5 6.5 2.5 9.5 6 11" fill="none" stroke="#fff" stroke-width="1.1"/></svg>
<div class="abs" style="left:90.5px;top:14px;width:3.2px;height:1px;background:#fff;opacity:.35"></div>
<svg class="abs" style="left:101.5px;top:12.5px" width="6" height="7" viewBox="0 0 6 7"><line x1="0.5" y1="0.8" x2="5.5" y2="0.8" stroke="#fff" stroke-width="1"/><path d="M0.6 3 L3 5.6 L5.4 3 Z" fill="#fff"/></svg>
<div class="t" style="top:12.59px;font-size:8.20px;color:#fff;left:116.80px;transform-origin:0 50%;transform:scaleX(0.918);">20 Years Financial Model 10 Steel Plant.xlsx &nbsp;-&nbsp; Excel</div>
<div class="abs" style="left:386.2px;top:5px;width:239.2px;height:20.6px;background:#d0e6d7;border-radius:2px"></div>
<svg class="abs" style="left:394.5px;top:10px" width="10" height="10" viewBox="0 0 10 10"><circle cx="5.8" cy="4" r="3" fill="none" stroke="#2f6b45" stroke-width="1"/><line x1="3.7" y1="6.2" x2="0.8" y2="9.2" stroke="#2f6b45" stroke-width="1.1"/></svg>
<div class="t" style="left:412.5px;top:10.6px;font-size:8.6px;color:#2f6b45">Search</div>
<div class="abs" style="left:883.8px;top:7.7px;width:15.4px;height:15.4px;border-radius:50%;background:#1651ad"></div>
<div class="t" style="left:883.8px;top:12.6px;width:15.4px;text-align:center;font-size:5.6px;color:#fff">RS</div>
<div class="abs" style="left:917.8px;top:14.8px;width:8.2px;height:1px;background:#fff"></div>
<svg class="abs" style="left:949.5px;top:11.5px" width="8" height="8" viewBox="0 0 8 8"><rect x="0.5" y="2.5" width="5" height="5" rx="1.2" fill="none" stroke="#fff" stroke-width="1"/><path d="M2.5 2.3 V1.7 Q2.5 0.5 3.7 0.5 H6.3 Q7.5 0.5 7.5 1.7 V4.3 Q7.5 5.5 6.3 5.5 H5.7" fill="none" stroke="#fff" stroke-width="1"/></svg>
<svg class="abs" style="left:980.5px;top:11px" width="9" height="9" viewBox="0 0 9 9"><path d="M0.7 0.7 L8.3 8.3 M8.3 0.7 L0.7 8.3" stroke="#fff" stroke-width="1.1"/></svg>
<div class="abs" id="ribbon"></div>
<div class="t" style="top:37.45px;font-size:8.90px;color:#3b3b3b;left:14.50px;transform-origin:0 50%;">File</div>
<div class="t" style="top:37.45px;font-size:8.90px;color:#3b3b3b;left:44.00px;transform-origin:0 50%;">Home</div>
<div class="t" style="top:37.45px;font-size:8.90px;color:#3b3b3b;left:80.80px;transform-origin:0 50%;">Insert</div>
<div class="t" style="top:37.45px;font-size:8.90px;color:#3b3b3b;left:114.80px;transform-origin:0 50%;">Draw</div>
<div class="t" style="top:37.45px;font-size:8.90px;color:#3b3b3b;left:148.00px;transform-origin:0 50%;">Page Layout</div>
<div class="t" style="top:37.45px;font-size:8.90px;color:#3b3b3b;left:209.00px;transform-origin:0 50%;">Formulas</div>
<div class="t" style="top:37.45px;font-size:8.90px;color:#3b3b3b;left:257.00px;transform-origin:0 50%;">Data</div>
<div class="t" style="top:37.45px;font-size:8.90px;color:#3b3b3b;left:288.00px;transform-origin:0 50%;">Review</div>
<div class="t" style="top:37.45px;font-size:8.90px;color:#3b3b3b;left:328.00px;transform-origin:0 50%;">View</div>
<div class="t" style="top:37.45px;font-size:8.90px;color:#3b3b3b;left:360.00px;transform-origin:0 50%;">Developer</div>
<div class="t" style="top:37.45px;font-size:8.90px;color:#3b3b3b;left:413.00px;transform-origin:0 50%;">Help</div>
<div class="t" style="top:37.45px;font-size:8.90px;color:#3b3b3b;left:443.80px;transform-origin:0 50%;">Acrobat</div>
<div class="t" style="top:37.45px;font-size:8.90px;color:#3b3b3b;left:487.00px;transform-origin:0 50%;">Power Pivot</div>
<div class="t" style="top:37.45px;font-size:8.90px;color:#1d6f42;left:546.00px;transform-origin:0 50%;">Chart Design</div>
<div class="t" style="top:37.45px;font-size:8.90px;color:#1d6f42;left:610.00px;transform-origin:0 50%;">Format</div>
<div class="abs" style="left:946.6px;top:33.5px;width:46px;height:15px;background:#107c41;border-radius:2.5px"></div>
<svg class="abs" style="left:950px;top:36.8px" width="6.8" height="8.2" viewBox="0 0 8 9" preserveAspectRatio="none"><path d="M0.6 4 V8.4 H7.4 V4" fill="none" stroke="#fff" stroke-width="1.1"/><path d="M1.2 5.5 C1.5 3 3 2.3 5 2.3 M3.6 0.6 L5.4 2.3 L3.6 4" fill="none" stroke="#fff" stroke-width="1"/></svg>
<div class="t" style="top:37.30px;font-size:8.80px;color:#fff;font-weight:bold;left:960.60px;transform-origin:0 50%;transform:scaleX(0.867);">Share</div>
<svg class="abs" style="left:985.4px;top:39.9px" width="5" height="4" viewBox="0 0 5 4"><path d="M0.5 0.8 L2.5 3 L4.5 0.8" fill="none" stroke="#fff" stroke-width="1.2"/></svg>
<div class="abs" id="colhdr"></div>
<svg class="abs" style="left:8.2px;top:53.2px" width="8" height="7.5" viewBox="0 0 8 7.5"><path d="M8 0 V7.5 H0 Z" fill="#b5b5b5"/></svg>
<div class="t" style="top:53.20px;font-size:8.40px;color:#444;left:18.60px;transform-origin:50% 50%;">A</div>
<div class="abs" style="left:17px;top:52.5px;width:1px;height:10px;background:#c6c6c6"></div>
<div class="abs" style="left:24.0px;top:53.5px;width:1px;height:9px;background:#c6c6c6"></div>
<div class="t" style="top:53.20px;font-size:8.40px;color:#444;left:41.75px;transform-origin:50% 50%;">B</div>
<div class="abs" style="left:63.10px;top:53.5px;width:1px;height:9px;background:#c6c6c6"></div>
<div class="t" style="top:53.20px;font-size:8.40px;color:#444;left:80.62px;transform-origin:50% 50%;">C</div>
<div class="abs" style="left:102.20px;top:53.5px;width:1px;height:9px;background:#c6c6c6"></div>
<div class="t" style="top:53.20px;font-size:8.40px;color:#444;left:119.72px;transform-origin:50% 50%;">D</div>
<div class="abs" style="left:141.30px;top:53.5px;width:1px;height:9px;background:#c6c6c6"></div>
<div class="t" style="top:53.20px;font-size:8.40px;color:#444;left:159.05px;transform-origin:50% 50%;">E</div>
<div class="abs" style="left:180.40px;top:53.5px;width:1px;height:9px;background:#c6c6c6"></div>
<div class="t" style="top:53.20px;font-size:8.40px;color:#444;left:198.38px;transform-origin:50% 50%;">F</div>
<div class="abs" style="left:219.50px;top:53.5px;width:1px;height:9px;background:#c6c6c6"></div>
<div class="t" style="top:53.20px;font-size:8.40px;color:#444;left:236.78px;transform-origin:50% 50%;">G</div>
<div class="abs" style="left:258.60px;top:53.5px;width:1px;height:9px;background:#c6c6c6"></div>
<div class="t" style="top:53.20px;font-size:8.40px;color:#444;left:276.12px;transform-origin:50% 50%;">H</div>
<div class="abs" style="left:297.70px;top:53.5px;width:1px;height:9px;background:#c6c6c6"></div>
<div class="t" style="top:53.20px;font-size:8.40px;color:#444;left:317.08px;transform-origin:50% 50%;">I</div>
<div class="abs" style="left:336.80px;top:53.5px;width:1px;height:9px;background:#c6c6c6"></div>
<div class="t" style="top:53.20px;font-size:8.40px;color:#444;left:355.25px;transform-origin:50% 50%;">J</div>
<div class="abs" style="left:375.90px;top:53.5px;width:1px;height:9px;background:#c6c6c6"></div>
<div class="t" style="top:53.20px;font-size:8.40px;color:#444;left:393.65px;transform-origin:50% 50%;">K</div>
<div class="abs" style="left:415.00px;top:53.5px;width:1px;height:9px;background:#c6c6c6"></div>
<div class="t" style="top:53.20px;font-size:8.40px;color:#444;left:433.21px;transform-origin:50% 50%;">L</div>
<div class="abs" style="left:454.10px;top:53.5px;width:1px;height:9px;background:#c6c6c6"></div>
<div class="t" style="top:53.20px;font-size:8.40px;color:#444;left:471.15px;transform-origin:50% 50%;">M</div>
<div class="abs" style="left:493.20px;top:53.5px;width:1px;height:9px;background:#c6c6c6"></div>
<div class="t" style="top:53.20px;font-size:8.40px;color:#444;left:510.72px;transform-origin:50% 50%;">N</div>
<div class="abs" style="left:532.30px;top:53.5px;width:1px;height:9px;background:#c6c6c6"></div>
<div class="t" style="top:53.20px;font-size:8.40px;color:#444;left:549.58px;transform-origin:50% 50%;">O</div>
<div class="abs" style="left:571.40px;top:53.5px;width:1px;height:9px;background:#c6c6c6"></div>
<div class="t" style="top:53.20px;font-size:8.40px;color:#444;left:589.15px;transform-origin:50% 50%;">P</div>
<div class="abs" style="left:610.50px;top:53.5px;width:1px;height:9px;background:#c6c6c6"></div>
<div class="t" style="top:53.20px;font-size:8.40px;color:#444;left:627.78px;transform-origin:50% 50%;">Q</div>
<div class="abs" style="left:649.60px;top:53.5px;width:1px;height:9px;background:#c6c6c6"></div>
<div class="t" style="top:53.20px;font-size:8.40px;color:#444;left:667.12px;transform-origin:50% 50%;">R</div>
<div class="abs" style="left:688.70px;top:53.5px;width:1px;height:9px;background:#c6c6c6"></div>
<div class="t" style="top:53.20px;font-size:8.40px;color:#444;left:706.45px;transform-origin:50% 50%;">S</div>
<div class="abs" style="left:727.80px;top:53.5px;width:1px;height:9px;background:#c6c6c6"></div>
<div class="t" style="top:53.20px;font-size:8.40px;color:#444;left:745.78px;transform-origin:50% 50%;">T</div>
<div class="abs" style="left:766.90px;top:53.5px;width:1px;height:9px;background:#c6c6c6"></div>
<div class="t" style="top:53.20px;font-size:8.40px;color:#444;left:784.42px;transform-origin:50% 50%;">U</div>
<div class="abs" style="left:806.00px;top:53.5px;width:1px;height:9px;background:#c6c6c6"></div>
<div class="t" style="top:53.20px;font-size:8.40px;color:#444;left:823.75px;transform-origin:50% 50%;">V</div>
<div class="abs" style="left:845.10px;top:53.5px;width:1px;height:9px;background:#c6c6c6"></div>
<div class="t" style="top:53.20px;font-size:8.40px;color:#444;left:861.69px;transform-origin:50% 50%;">W</div>
<div class="abs" style="left:884.20px;top:53.5px;width:1px;height:9px;background:#c6c6c6"></div>
<div class="t" style="top:53.20px;font-size:8.40px;color:#444;left:901.95px;transform-origin:50% 50%;">X</div>
<div class="abs" style="left:923.30px;top:53.5px;width:1px;height:9px;background:#c6c6c6"></div>
<div class="t" style="top:53.20px;font-size:8.40px;color:#444;left:941.05px;transform-origin:50% 50%;">Y</div>
<div class="abs" style="left:962.40px;top:53.5px;width:1px;height:9px;background:#c6c6c6"></div>
<div class="t" style="top:53.20px;font-size:8.40px;color:#444;left:980.38px;transform-origin:50% 50%;">Z</div>
<div class="abs" id="rowhdr"></div>
<div class="t" style="top:64.80px;font-size:8.50px;color:#3a3a3a;left:1.71px;transform-origin:50% 50%;">196</div>
<div class="abs" style="left:2px;top:74.25px;width:14px;height:1px;background:#e6e6e6"></div>
<div class="t" style="top:76.80px;font-size:8.50px;color:#3a3a3a;left:1.71px;transform-origin:50% 50%;">197</div>
<div class="abs" style="left:2px;top:86.25px;width:14px;height:1px;background:#e6e6e6"></div>
<div class="t" style="top:88.80px;font-size:8.50px;color:#3a3a3a;left:1.71px;transform-origin:50% 50%;">198</div>
<div class="abs" style="left:2px;top:98.25px;width:14px;height:1px;background:#e6e6e6"></div>
<div class="t" style="top:100.80px;font-size:8.50px;color:#3a3a3a;left:1.71px;transform-origin:50% 50%;">199</div>
<div class="abs" style="left:2px;top:110.25px;width:14px;height:1px;background:#e6e6e6"></div>
<div class="t" style="top:112.80px;font-size:8.50px;color:#3a3a3a;left:1.71px;transform-origin:50% 50%;">200</div>
<div class="abs" style="left:2px;top:122.25px;width:14px;height:1px;background:#e6e6e6"></div>
<div class="t" style="top:124.80px;font-size:8.50px;color:#3a3a3a;left:1.71px;transform-origin:50% 50%;">201</div>
<div class="abs" style="left:2px;top:134.25px;width:14px;height:1px;background:#e6e6e6"></div>
<div class="t" style="top:136.80px;font-size:8.50px;color:#3a3a3a;left:1.71px;transform-origin:50% 50%;">202</div>
<div class="abs" style="left:2px;top:146.25px;width:14px;height:1px;background:#e6e6e6"></div>
<div class="t" style="top:148.80px;font-size:8.50px;color:#3a3a3a;left:1.71px;transform-origin:50% 50%;">203</div>
<div class="abs" style="left:2px;top:158.25px;width:14px;height:1px;background:#e6e6e6"></div>
<div class="t" style="top:160.80px;font-size:8.50px;color:#3a3a3a;left:1.71px;transform-origin:50% 50%;">204</div>
<div class="abs" style="left:2px;top:170.25px;width:14px;height:1px;background:#e6e6e6"></div>
<div class="t" style="top:172.80px;font-size:8.50px;color:#3a3a3a;left:1.71px;transform-origin:50% 50%;">205</div>
<div class="abs" style="left:2px;top:182.25px;width:14px;height:1px;background:#e6e6e6"></div>
<div class="t" style="top:184.80px;font-size:8.50px;color:#3a3a3a;left:1.71px;transform-origin:50% 50%;">206</div>
<div class="abs" style="left:2px;top:194.25px;width:14px;height:1px;background:#e6e6e6"></div>
<div class="t" style="top:196.80px;font-size:8.50px;color:#3a3a3a;left:1.71px;transform-origin:50% 50%;">207</div>
<div class="abs" style="left:2px;top:206.25px;width:14px;height:1px;background:#e6e6e6"></div>
<div class="t" style="top:208.80px;font-size:8.50px;color:#3a3a3a;left:1.71px;transform-origin:50% 50%;">208</div>
<div class="abs" style="left:2px;top:218.25px;width:14px;height:1px;background:#e6e6e6"></div>
<div class="t" style="top:220.80px;font-size:8.50px;color:#3a3a3a;left:1.71px;transform-origin:50% 50%;">209</div>
<div class="abs" style="left:2px;top:230.25px;width:14px;height:1px;background:#e6e6e6"></div>
<div class="t" style="top:232.80px;font-size:8.50px;color:#3a3a3a;left:1.71px;transform-origin:50% 50%;">210</div>
<div class="abs" style="left:2px;top:242.25px;width:14px;height:1px;background:#e6e6e6"></div>
<div class="t" style="top:244.80px;font-size:8.50px;color:#3a3a3a;left:2.02px;transform-origin:50% 50%;">211</div>
<div class="abs" style="left:2px;top:254.25px;width:14px;height:1px;background:#e6e6e6"></div>
<div class="t" style="top:256.80px;font-size:8.50px;color:#3a3a3a;left:1.71px;transform-origin:50% 50%;">212</div>
<div class="abs" style="left:2px;top:266.25px;width:14px;height:1px;background:#e6e6e6"></div>
<div class="t" style="top:268.80px;font-size:8.50px;color:#3a3a3a;left:1.71px;transform-origin:50% 50%;">213</div>
<div class="abs" style="left:2px;top:278.25px;width:14px;height:1px;background:#e6e6e6"></div>
<div class="t" style="top:280.80px;font-size:8.50px;color:#3a3a3a;left:1.71px;transform-origin:50% 50%;">214</div>
<div class="abs" style="left:2px;top:290.25px;width:14px;height:1px;background:#e6e6e6"></div>
<div class="t" style="top:292.80px;font-size:8.50px;color:#3a3a3a;left:1.71px;transform-origin:50% 50%;">215</div>
<div class="abs" style="left:2px;top:302.25px;width:14px;height:1px;background:#e6e6e6"></div>
<div class="t" style="top:304.80px;font-size:8.50px;color:#3a3a3a;left:1.71px;transform-origin:50% 50%;">216</div>
<div class="abs" style="left:2px;top:314.25px;width:14px;height:1px;background:#e6e6e6"></div>
<div class="t" style="top:316.80px;font-size:8.50px;color:#3a3a3a;left:1.71px;transform-origin:50% 50%;">217</div>
<div class="abs" style="left:2px;top:326.25px;width:14px;height:1px;background:#e6e6e6"></div>
<div class="t" style="top:328.80px;font-size:8.50px;color:#3a3a3a;left:1.71px;transform-origin:50% 50%;">218</div>
<div class="abs" style="left:2px;top:338.25px;width:14px;height:1px;background:#e6e6e6"></div>
<div class="t" style="top:340.80px;font-size:8.50px;color:#3a3a3a;left:1.71px;transform-origin:50% 50%;">219</div>
<div class="abs" style="left:2px;top:350.25px;width:14px;height:1px;background:#e6e6e6"></div>
<div class="t" style="top:352.80px;font-size:8.50px;color:#3a3a3a;left:1.71px;transform-origin:50% 50%;">220</div>
<div class="abs" style="left:2px;top:362.25px;width:14px;height:1px;background:#e6e6e6"></div>
<div class="t" style="top:364.80px;font-size:8.50px;color:#3a3a3a;left:1.71px;transform-origin:50% 50%;">221</div>
<div class="abs" style="left:2px;top:374.25px;width:14px;height:1px;background:#e6e6e6"></div>
<div class="t" style="top:376.80px;font-size:8.50px;color:#3a3a3a;left:1.71px;transform-origin:50% 50%;">222</div>
<div class="abs" style="left:2px;top:386.25px;width:14px;height:1px;background:#e6e6e6"></div>
<div class="t" style="top:388.80px;font-size:8.50px;color:#3a3a3a;left:1.71px;transform-origin:50% 50%;">223</div>
<div class="abs" style="left:2px;top:398.25px;width:14px;height:1px;background:#e6e6e6"></div>
<div class="t" style="top:400.80px;font-size:8.50px;color:#3a3a3a;left:1.71px;transform-origin:50% 50%;">224</div>
<div class="abs" style="left:2px;top:410.25px;width:14px;height:1px;background:#e6e6e6"></div>
<div class="t" style="top:412.80px;font-size:8.50px;color:#3a3a3a;left:1.71px;transform-origin:50% 50%;">225</div>
<div class="abs" style="left:2px;top:422.25px;width:14px;height:1px;background:#e6e6e6"></div>
<div class="t" style="top:424.80px;font-size:8.50px;color:#3a3a3a;left:1.71px;transform-origin:50% 50%;">226</div>
<div class="abs" style="left:2px;top:434.25px;width:14px;height:1px;background:#e6e6e6"></div>
<div class="t" style="top:436.80px;font-size:8.50px;color:#3a3a3a;left:1.71px;transform-origin:50% 50%;">227</div>
<div class="abs" style="left:2px;top:446.25px;width:14px;height:1px;background:#e6e6e6"></div>
<div class="t" style="top:448.80px;font-size:8.50px;color:#3a3a3a;left:1.71px;transform-origin:50% 50%;">228</div>
<div class="abs" style="left:2px;top:458.25px;width:14px;height:1px;background:#e6e6e6"></div>
<div class="t" style="top:460.80px;font-size:8.50px;color:#3a3a3a;left:1.71px;transform-origin:50% 50%;">229</div>
<div class="abs" style="left:2px;top:470.25px;width:14px;height:1px;background:#e6e6e6"></div>
<div class="t" style="top:472.80px;font-size:8.50px;color:#3a3a3a;left:1.71px;transform-origin:50% 50%;">230</div>
<div class="abs" style="left:2px;top:482.25px;width:14px;height:1px;background:#e6e6e6"></div>
<div class="t" style="top:484.80px;font-size:8.50px;color:#3a3a3a;left:1.71px;transform-origin:50% 50%;">231</div>
<div class="abs" style="left:2px;top:494.25px;width:14px;height:1px;background:#e6e6e6"></div>
<div class="t" style="top:496.80px;font-size:8.50px;color:#3a3a3a;left:1.71px;transform-origin:50% 50%;">232</div>
<div class="abs" style="left:2px;top:506.25px;width:14px;height:1px;background:#e6e6e6"></div>
<div class="t" style="top:508.80px;font-size:8.50px;color:#3a3a3a;left:1.71px;transform-origin:50% 50%;">233</div>
<div class="abs" style="left:2px;top:518.25px;width:14px;height:1px;background:#e6e6e6"></div>
<div class="t" style="top:520.80px;font-size:8.50px;color:#3a3a3a;left:1.71px;transform-origin:50% 50%;">234</div>
<div class="abs" style="left:2px;top:530.25px;width:14px;height:1px;background:#e6e6e6"></div>
<div class="t" style="top:532.80px;font-size:8.50px;color:#3a3a3a;left:1.71px;transform-origin:50% 50%;">235</div>
<div class="abs" style="left:2px;top:542.25px;width:14px;height:1px;background:#e6e6e6"></div>
<div class="t" style="top:544.80px;font-size:8.50px;color:#3a3a3a;left:1.71px;transform-origin:50% 50%;">236</div>
<div class="abs" style="left:2px;top:554.25px;width:14px;height:1px;background:#e6e6e6"></div>
<div class="t" style="top:556.80px;font-size:8.50px;color:#3a3a3a;left:1.71px;transform-origin:50% 50%;">237</div>
<div class="abs" style="left:2px;top:566.25px;width:14px;height:1px;background:#e6e6e6"></div>
<div class="abs" id="vscroll"></div>
<svg class="abs" style="left:990.5px;top:54.5px" width="6" height="5" viewBox="0 0 6 5"><path d="M0 4.5 L3 0.5 L6 4.5 Z" fill="#5e5e5e"/></svg>
<svg class="abs" style="left:990.5px;top:552.5px" width="6" height="5" viewBox="0 0 6 5"><path d="M0 0.5 L3 4.5 L6 0.5 Z" fill="#5e5e5e"/></svg>
<div class="abs" style="left:991.5px;top:290.6px;width:5.6px;height:48.8px;background:#6e6e6e;border-radius:3px"></div>
<div class="abs" id="tabbar"></div>
<svg class="abs" style="left:16.6px;top:565.6px" width="4.4" height="7" viewBox="0 0 5 8"><path d="M4 0.7 L1 4 L4 7.3" fill="none" stroke="#9a9a9a" stroke-width="1.2"/></svg>
<svg class="abs" style="left:37.6px;top:565.6px" width="4.4" height="7" viewBox="0 0 5 8"><path d="M1 0.7 L4 4 L1 7.3" fill="none" stroke="#6a6a6a" stroke-width="1.2"/></svg>
<div class="abs" style="left:56.6px;top:568.2px;width:1.8px;height:1.8px;border-radius:50%;background:#3c3c3c;box-shadow:2.8px 0 0 #3c3c3c,5.6px 0 0 #3c3c3c"></div>
<div class="abs" style="left:200.5px;top:561.5px;width:62.19999999999999px;height:14.6px;background:#fcfc86;border-radius:2.5px"></div>
<div class="abs" style="left:268.4px;top:561.5px;width:59.60000000000002px;height:14.6px;background:#fcfc86;border-radius:2.5px"></div>
<div class="abs" style="left:333.7px;top:561.5px;width:40.80000000000001px;height:14.6px;background:#fcfc86;border-radius:2.5px"></div>
<div class="abs" style="left:608px;top:561.5px;width:60.200000000000045px;height:14.6px;background:#fcfc86;border-radius:2.5px"></div>
<div class="t" style="top:564.91px;font-size:9.60px;color:#2e2e2e;left:80.40px;transform-origin:0 50%;transform:scaleX(0.928);">Statements Summary 2043</div>
<div class="t" style="top:564.91px;font-size:9.60px;color:#2e2e2e;left:206.80px;transform-origin:0 50%;transform:scaleX(0.861);">CAPEX 2043</div>
<div class="t" style="top:564.91px;font-size:9.60px;color:#2e2e2e;left:274.30px;transform-origin:0 50%;transform:scaleX(0.935);">Inputs 2044</div>
<div class="t" style="top:564.91px;font-size:9.60px;color:#2e2e2e;left:339.20px;transform-origin:0 50%;transform:scaleX(0.870);">IS 2044</div>
<div class="t" style="top:564.91px;font-size:9.60px;color:#2e2e2e;left:385.80px;transform-origin:0 50%;transform:scaleX(0.858);">CF 2044</div>
<div class="t" style="top:564.91px;font-size:9.60px;color:#2e2e2e;left:435.80px;transform-origin:0 50%;transform:scaleX(0.858);">BS 2044</div>
<div class="t" style="top:564.91px;font-size:9.60px;color:#2e2e2e;left:486.50px;transform-origin:0 50%;transform:scaleX(0.928);">Statements Summary 2044</div>
<div class="t" style="top:564.91px;font-size:9.60px;color:#2e2e2e;left:613.00px;transform-origin:0 50%;transform:scaleX(0.856);">CAPEX 2044</div>
<div class="t" style="top:564.91px;font-size:9.60px;color:#2e2e2e;left:680.40px;transform-origin:0 50%;transform:scaleX(0.922);">Key Metrics Charts</div>
<div class="abs" style="left:767.3px;top:559.5px;width:100.1px;height:17.8px;background:#fff"></div>
<div class="t" style="top:562.81px;font-size:9.60px;color:#222;font-weight:bold;left:772.50px;transform-origin:0 50%;transform:scaleX(0.870);">Sales Summary Charts</div>
<div class="abs" style="left:772.5px;top:575.1px;width:91px;height:1.3px;background:#1e7145"></div>
<div class="abs" style="left:886.6px;top:568.2px;width:1.8px;height:1.8px;border-radius:50%;background:#3c3c3c;box-shadow:2.8px 0 0 #3c3c3c,5.6px 0 0 #3c3c3c"></div>
<svg class="abs" style="left:907px;top:564.6px" width="9" height="9" viewBox="0 0 9 9"><path d="M4.5 0.5 V8.5 M0.5 4.5 H8.5" stroke="#444" stroke-width="1"/></svg>
<div class="abs" style="left:931.3px;top:565px;width:1.6px;height:1.6px;background:#666;box-shadow:0 3.6px 0 #666,0 7.2px 0 #666"></div>
<svg class="abs" style="left:945.8px;top:566.8px" width="4" height="6" viewBox="0 0 4 6"><path d="M4 0 V6 L0 3 Z" fill="#5e5e5e"/></svg>
<div class="abs" style="left:953.7px;top:566.8px;width:20.3px;height:5.6px;background:#6e6e6e;border-radius:3px"></div>
<svg class="abs" style="left:981px;top:566.8px" width="4" height="6" viewBox="0 0 4 6"><path d="M0 0 V6 L4 3 Z" fill="#5e5e5e"/></svg>
<div class="abs" id="status"></div>
<div class="t" style="top:584.73px;font-size:7.10px;color:#444;left:7.70px;transform-origin:0 50%;transform:scaleX(0.911);">Ready</div>
<svg class="abs" style="left:39px;top:583.4px" width="9.4" height="9" viewBox="0 0 9.4 9"><rect x="0.5" y="0.5" width="8.4" height="8.5" fill="none" stroke="#555" stroke-width="1"/><path d="M0.5 3 H9 M3.2 0.5 V9 M6 0.5 V4" stroke="#666" stroke-width=".8"/><circle cx="6.3" cy="6.6" r="1.5" fill="#444"/></svg>
<svg class="abs" style="left:59.8px;top:582.8px" width="9" height="9" viewBox="0 0 10 10"><circle cx="5" cy="1.6" r="1.2" fill="none" stroke="#444" stroke-width=".9"/><path d="M0.8 3.6 H9.2 M5 3.6 V6 M2.2 9.8 L5 6 L7.8 9.8" fill="none" stroke="#444" stroke-width="1"/></svg>
<div class="t" style="top:584.73px;font-size:7.10px;color:#222;font-weight:bold;left:71.80px;transform-origin:0 50%;transform:scaleX(0.928);">Accessibility: Investigate</div>
<div class="abs" style="left:812.5px;top:579.5px;width:14px;height:11.5px;background:#e4e4e4"></div>
<svg class="abs" style="left:815px;top:582px" width="9" height="9" viewBox="0 0 9 9"><path d="M0.5 0.5 H8.5 V9 M0.5 0.5 V9 M0.5 3.5 H8.5 M0.5 6.5 H8.5 M3.2 0.5 V9 M5.9 0.5 V9" fill="none" stroke="#444" stroke-width=".9"/></svg>
<svg class="abs" style="left:841px;top:582px" width="9" height="9" viewBox="0 0 9 9"><path d="M0.5 9 V0.5 H8.5 V9 M2.5 9 V2.5 H6.5 V9 M4.5 2.5 V9" fill="none" stroke="#444" stroke-width=".9"/></svg>
<svg class="abs" style="left:867px;top:582px" width="9" height="9" viewBox="0 0 9 9"><path d="M0.5 9 V0.5 H8.5 V9 M0.5 5 H4.5 V0.5" fill="none" stroke="#444" stroke-width=".9"/></svg>
<div class="abs" style="left:889px;top:586.1px;width:4.5px;height:1px;background:#666"></div>
<div class="abs" style="left:896px;top:586.1px;width:67px;height:1px;background:#9a9a9a"></div>
<div class="abs" style="left:926.4px;top:583.4px;width:3.2px;height:8px;background:#555;border-radius:1px"></div>
<svg class="abs" style="left:965.3px;top:584.1px" width="5" height="5" viewBox="0 0 6 6"><path d="M3 0 V6 M0 3 H6" stroke="#555" stroke-width="1"/></svg>
<div class="t" style="top:584.13px;font-size:7.10px;color:#444;left:979.00px;transform-origin:0 50%;transform:scaleX(0.859);">94%</div>
</body></html>
